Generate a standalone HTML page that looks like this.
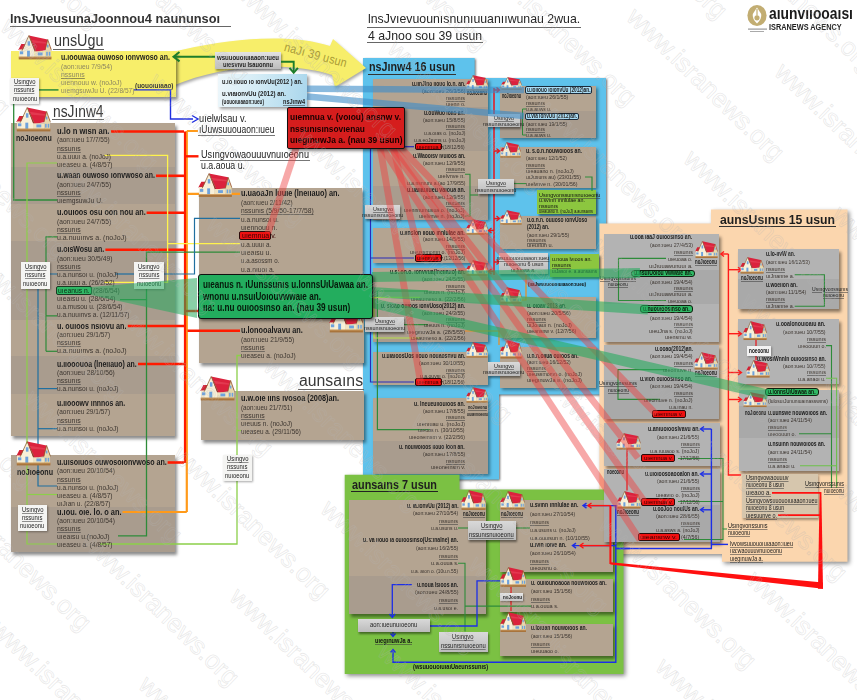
<!DOCTYPE html><html><head><meta charset="utf-8"><style>
*{margin:0;padding:0;box-sizing:border-box}
html,body{width:857px;height:700px;overflow:hidden;background:#fff}
body{position:relative;font-family:"Liberation Sans",sans-serif;color:#222}
.a{position:absolute}
.t{white-space:nowrap;line-height:1;transform-origin:0 0}
.sh{box-shadow:2px 3px 3px rgba(0,0,0,.45)}
.b1{background:#b4a491}.b2{background:#a99c8e}
.wm{font-size:25.7px;white-space:nowrap;color:transparent;-webkit-text-stroke:0.8px rgba(180,180,180,.28);transform:rotate(44deg);transform-origin:0 20px;line-height:1}
.g1{background:#b3b3b3}.g2{background:#a9a9a9}
</style></head><body>
<svg width="0" height="0" style="position:absolute"><defs>
<symbol id="h" viewBox="0 0 36 26">
<polygon points="0.3,15.5 3.5,9.3 8.8,9.3 8.8,15.5" fill="#d42036"/>
<rect x="1" y="15" width="8" height="8" fill="#f4ead0"/>
<polygon points="5,15.5 11.5,1.2 17.5,15.5 17.5,23 5,23" fill="#f8f0d8"/>
<polygon points="11.5,0.4 31.3,4.6 35,14.5 19.2,17.6" fill="#db223d"/>
<polygon points="11.5,0.4 19.2,17.6 17.6,17.2" fill="#9c1227"/>
<polygon points="14,5 30,7.5 31,9 16,8" fill="#e84a5e" opacity=".6"/>
<rect x="17.5" y="17" width="11.5" height="6" fill="#efe3c2"/>
<polygon points="29,15.5 31.5,5 35,15.5 35,23 29,23" fill="#e7d7ab"/>
<polyline points="4.3,16.3 11.5,0.6 18.2,16.3" fill="none" stroke="#8a5a2a" stroke-width=".8"/>
<polyline points="28.6,16 31.5,4.6 35.5,16" fill="none" stroke="#8a5a2a" stroke-width=".7"/>
<rect x="10.2" y="6.5" width="2.6" height="4.6" fill="#6ea2dc"/>
<rect x="9.6" y="16.3" width="3" height="6.5" fill="#6ea2dc"/>
<rect x="2" y="17" width="3.5" height="3" fill="#6ea2dc"/>
<rect x="21" y="18.2" width="5" height="3" fill="#6ea2dc"/>
<rect x="30.7" y="10" width="1.6" height="3" fill="#6ea2dc"/>
<rect x="29.9" y="17.5" width="1.6" height="4" fill="#6ea2dc"/>
<rect x="32.6" y="17.5" width="1.6" height="4" fill="#6ea2dc"/>
<rect x="0.8" y="22.6" width="34.6" height="2.8" fill="#a8743c"/>
<rect x="0.8" y="22.6" width="34.6" height="0.7" fill="#d4a56a"/>
</symbol></defs></svg>
<svg class="a" style="left:0;top:0;" width="857" height="700"><path d="M363,58 H474.7 V78 H606 V394.6 H499 V479.5 H363 Z" fill="#5ec2ec" style="filter:drop-shadow(1.5px 1.5px 1px rgba(0,0,0,.6))"/></svg>
<svg class="a" style="left:0;top:0;" width="857" height="700"><path d="M172,52 C230,38 290,33 330,46 L333,39 L366,68 L335,87 L332,75 C300,64 235,60 172,86 Z" fill="#f7ee6a" style="filter:drop-shadow(1px 2px 1.5px rgba(0,0,0,.35))"/></svg>
<div class="a t" style="left:286px;top:40.5px;font-size:12.5px;color:#a99b35;transform:rotate(15deg) scaleX(0.86);transform-origin:0 0;letter-spacing:0.3px">naJı 39 usun</div>
<div class="a sh" style="left:10.5px;top:51px;width:165px;height:46px;background:#f7ee6a"></div>
<div class="a b1" style="left:11px;top:123px;width:164px;height:313px;box-shadow:2px 3px 3px rgba(0,0,0,.45)"></div>
<div class="a b1" style="left:11px;top:455px;width:164px;height:97px;box-shadow:2px 3px 3px rgba(0,0,0,.45)"></div>
<div class="a b1" style="left:198.7px;top:188px;width:163.5px;height:132px;box-shadow:2px 3px 3px rgba(0,0,0,.45)"></div>
<div class="a b1" style="left:198.7px;top:319px;width:165.3px;height:44px;box-shadow:2px 3px 3px rgba(0,0,0,.45)"></div>
<div class="a b1" style="left:200.5px;top:391px;width:163.5px;height:49px;box-shadow:2px 3px 3px rgba(0,0,0,.45)"></div>
<div class="a b1" style="left:372.9px;top:79.4px;width:115px;height:140px;box-shadow:2px 2px 3px rgba(0,0,0,.4)"></div>
<div class="a b1" style="left:372.9px;top:228px;width:115px;height:34.7px;box-shadow:2px 2px 3px rgba(0,0,0,.4)"></div>
<div class="a b1" style="left:372.9px;top:268px;width:115px;height:74px;box-shadow:2px 2px 3px rgba(0,0,0,.4)"></div>
<div class="a b1" style="left:372.9px;top:352px;width:115px;height:33px;box-shadow:2px 2px 3px rgba(0,0,0,.4)"></div>
<div class="a b1" style="left:372.9px;top:397.6px;width:115px;height:76.4px;box-shadow:2px 2px 3px rgba(0,0,0,.4)"></div>
<div class="a b1" style="left:500.4px;top:86px;width:95.6px;height:52px;box-shadow:2px 2px 3px rgba(0,0,0,.4)"></div>
<div class="a b1" style="left:500.4px;top:147px;width:95.6px;height:41.4px;box-shadow:2px 2px 3px rgba(0,0,0,.4)"></div>
<div class="a b1" style="left:500px;top:216px;width:96px;height:33.4px;box-shadow:2px 2px 3px rgba(0,0,0,.4)"></div>
<div class="a b1" style="left:500px;top:297.4px;width:96px;height:40.2px;box-shadow:2px 2px 3px rgba(0,0,0,.4)"></div>
<div class="a b1" style="left:500px;top:347px;width:96px;height:41px;box-shadow:2px 2px 3px rgba(0,0,0,.4)"></div>
<div class="a b2" style="left:11px;top:167px;width:164px;height:37px;"></div>
<div class="a b2" style="left:11px;top:241px;width:164px;height:79px;"></div>
<div class="a b2" style="left:11px;top:356px;width:164px;height:38px;"></div>
<div class="a b2" style="left:11px;top:507px;width:164px;height:45px;"></div>
<div class="a b2" style="left:372.9px;top:107.3px;width:115px;height:43.5px;"></div>
<div class="a b2" style="left:372.9px;top:185.5px;width:115px;height:34px;"></div>
<div class="a b2" style="left:372.9px;top:301.5px;width:115px;height:40.5px;"></div>
<div class="a b2" style="left:372.9px;top:441px;width:115px;height:33px;"></div>
<div class="a b2" style="left:500.4px;top:111px;width:95.6px;height:27px;"></div>
<svg class="a" style="left:0;top:0;" width="857" height="700"><path d="M711,209.4 H847.5 V561.7 H722 V554 H599.4 V223.5 H711 Z" fill="#fbd6ae" style="filter:drop-shadow(2px 2px 2px rgba(0,0,0,.45))"/></svg>
<svg class="a" style="left:0;top:0;" width="857" height="700"><path d="M344.7,474.7 H459.5 V489.5 H623.5 V674 H344.7 Z" fill="#7bc143" style="filter:drop-shadow(2px 2px 2px rgba(0,0,0,.45))"/></svg>
<div class="a b1" style="left:349px;top:499.7px;width:136.5px;height:114.3px;box-shadow:2px 3px 3px rgba(0,0,0,.45)"></div>
<div class="a b1" style="left:500.4px;top:500.2px;width:112.6px;height:72px;box-shadow:2px 3px 3px rgba(0,0,0,.45)"></div>
<div class="a b1" style="left:500.4px;top:579px;width:112.6px;height:32.5px;box-shadow:2px 3px 3px rgba(0,0,0,.45)"></div>
<div class="a b1" style="left:500.4px;top:623.8px;width:112.6px;height:32.5px;box-shadow:2px 3px 3px rgba(0,0,0,.45)"></div>
<div class="a g1" style="left:604.3px;top:234px;width:115px;height:107.6px;box-shadow:2px 3px 3px rgba(0,0,0,.45)"></div>
<div class="a g1" style="left:604.3px;top:345px;width:115px;height:74px;box-shadow:2px 3px 3px rgba(0,0,0,.45)"></div>
<div class="a g1" style="left:604px;top:423.3px;width:115.7px;height:42.4px;box-shadow:2px 3px 3px rgba(0,0,0,.45)"></div>
<div class="a g1" style="left:604px;top:469.2px;width:115.7px;height:72.5px;box-shadow:2px 3px 3px rgba(0,0,0,.45)"></div>
<div class="a g1" style="left:737.6px;top:249px;width:101.7px;height:59.6px;box-shadow:2px 3px 3px rgba(0,0,0,.45)"></div>
<div class="a g1" style="left:737.6px;top:318.8px;width:101.7px;height:65.2px;box-shadow:2px 3px 3px rgba(0,0,0,.45)"></div>
<div class="a g1" style="left:738.9px;top:389.5px;width:100.6px;height:81.7px;box-shadow:2px 3px 3px rgba(0,0,0,.45)"></div>
<div class="a b1" style="left:349px;top:534.6px;width:136.5px;height:41.7px;"></div>
<div class="a b2" style="left:349px;top:576.3px;width:136.5px;height:37.7px;"></div>
<div class="a g2" style="left:604.3px;top:269.6px;width:115px;height:34.4px;"></div>
<div class="a g2" style="left:604.3px;top:380px;width:115px;height:39px;"></div>
<div class="a g2" style="left:604px;top:505px;width:115.7px;height:36.7px;"></div>
<div class="a g2" style="left:737.6px;top:278.8px;width:101.7px;height:29.8px;"></div>
<div class="a g2" style="left:738.9px;top:406px;width:100.6px;height:31.6px;"></div>
<div class="a " style="left:215.3px;top:51.5px;width:65.5px;height:17.5px;background:linear-gradient(#e2e2e2,#bdbdbd);box-shadow:1px 2px 2px rgba(0,0,0,.4)"></div>
<div class="a " style="left:217.8px;top:74px;width:89.5px;height:33px;background:linear-gradient(100deg,#eef7fb 0%,#d2ebf5 45%,#a9d6ec 100%);box-shadow:2px 2px 3px rgba(0,0,0,.4)"></div>
<div class="a " style="left:537px;top:190.4px;width:58.5px;height:23.6px;background:#8cc63f;box-shadow:1.5px 2px 2px rgba(0,0,0,.5)"></div>
<div class="a " style="left:550px;top:254px;width:49px;height:22.5px;background:#8cc63f;box-shadow:1.5px 2px 2px rgba(0,0,0,.5)"></div>
<div class="a " style="left:742px;top:474px;width:76px;height:44px;background:#d6c6ad;box-shadow:1px 2px 2px rgba(0,0,0,.35)"></div>
<svg class="a" style="left:0;top:0" width="857" height="700"><path d="M215,56.7 L174,56.7" fill="none" stroke="#1e7d2a" stroke-width="1.9" /></svg>
<svg class="a" style="left:0;top:0" width="857" height="700"><path d="M179.5,52 L173.5,56.7 L179.5,61.4" fill="none" stroke="#1e7d2a" stroke-width="2" /></svg>
<svg class="a" style="left:0;top:0" width="857" height="700"><path d="M281,61.8 L293.7,61.8 L293.7,72" fill="none" stroke="#1e7d2a" stroke-width="1.9" /></svg>
<svg class="a" style="left:0;top:0" width="857" height="700"><path d="M289.5,67.8 L293.7,72.8 L297.9,67.8" fill="none" stroke="#1e7d2a" stroke-width="2" /></svg>
<svg class="a" style="left:0;top:0" width="857" height="700"><path d="M186.8,131 L186.8,512" fill="none" stroke="#ff9a1a" stroke-width="2.2" /></svg>
<svg class="a" style="left:0;top:0" width="857" height="700"><path d="M39,89.9 L58.5,89.9" fill="none" stroke="#2e8b3a" stroke-width="1.5" /></svg>
<svg class="a" style="left:0;top:0" width="857" height="700"><path d="M13.7,104 L13.7,200 L57,200" fill="none" stroke="#2e8b3a" stroke-width="1.3" /></svg>
<svg class="a" style="left:0;top:0" width="857" height="700"><path d="M134,89.9 L170.5,89.9 L170.5,119 L193,119" fill="none" stroke="#1f2fe0" stroke-width="1.4" /></svg>
<svg class="a" style="left:0;top:0" width="857" height="700"><path d="M185,131.5 L185,463" fill="none" stroke="#ff1a00" stroke-width="2.2" /></svg>
<svg class="a" style="left:0;top:0" width="857" height="700"><path d="M111,131.5 L184,131.5" fill="none" stroke="#ff1a00" stroke-width="2.6" /></svg>
<svg class="a" style="left:0;top:0" width="857" height="700"><path d="M156,175.8 L184,175.8" fill="none" stroke="#ff1a00" stroke-width="2.6" /></svg>
<svg class="a" style="left:0;top:0" width="857" height="700"><path d="M146.6,212.7 L184,212.7" fill="none" stroke="#ff1a00" stroke-width="2.6" /></svg>
<svg class="a" style="left:0;top:0" width="857" height="700"><path d="M105.4,249.8 L184,249.8" fill="none" stroke="#ff1a00" stroke-width="2.6" /></svg>
<svg class="a" style="left:0;top:0" width="857" height="700"><path d="M127.8,326 L184,326" fill="none" stroke="#ff1a00" stroke-width="2.6" /></svg>
<svg class="a" style="left:0;top:0" width="857" height="700"><path d="M138,364 L184,364" fill="none" stroke="#ff1a00" stroke-width="2.6" /></svg>
<svg class="a" style="left:0;top:0" width="857" height="700"><path d="M167.6,462.5 L184,462.5" fill="none" stroke="#ff1a00" stroke-width="2.6" /></svg>
<svg class="a" style="left:0;top:0" width="857" height="700"><path d="M122.5,512 L186.8,512" fill="none" stroke="#ff9a1a" stroke-width="2.2" /></svg>
<svg class="a" style="left:0;top:0" width="857" height="700"><path d="M184,311 L198.7,311" fill="none" stroke="#ff1a00" stroke-width="2.4" /></svg>
<svg class="a" style="left:0;top:0" width="857" height="700"><path d="M186.8,131 L198,131" fill="none" stroke="#ff9a1a" stroke-width="2" /></svg>
<svg class="a" style="left:0;top:0" width="857" height="700"><path d="M186.8,193.8 L240,193.8" fill="none" stroke="#ff9a1a" stroke-width="2.2" /></svg>
<svg class="a" style="left:0;top:0" width="857" height="700"><path d="M187.5,330.7 L240,330.7" fill="none" stroke="#ff1a00" stroke-width="2.6" /></svg>
<svg class="a" style="left:0;top:0" width="857" height="700"><path d="M184,156.3 L198.5,156.3" fill="none" stroke="#ff1a00" stroke-width="2.4" /></svg>
<svg class="a" style="left:0;top:0" width="857" height="700"><path d="M104,155.3 L167.6,155.3 L167.6,282.4 L104,282.4" fill="none" stroke="#fff34d" stroke-width="1.3" /></svg>
<svg class="a" style="left:0;top:0" width="857" height="700"><path d="M167.6,243.7 L240,243.7" fill="none" stroke="#fff34d" stroke-width="1.3" /></svg>
<svg class="a" style="left:0;top:0" width="857" height="700"><path d="M57,163 L27,163 L27,544 L57,544" fill="none" stroke="#8ccf4a" stroke-width="1.2" /></svg>
<svg class="a" style="left:0;top:0" width="857" height="700"><path d="M100,544 L237,544 L237,355.5 L241,355.5" fill="none" stroke="#8ccf4a" stroke-width="1.3" /></svg>
<svg class="a" style="left:0;top:0" width="857" height="700"><path d="M237,430.5 L241,430.5" fill="none" stroke="#8ccf4a" stroke-width="1.3" /></svg>
<svg class="a" style="left:0;top:0" width="857" height="700"><path d="M57,494.5 L27,494.5" fill="none" stroke="#8ccf4a" stroke-width="1.2" /></svg>
<svg class="a" style="left:0;top:0" width="857" height="700"><path d="M57,236.8 L46,236.8 L46,315.8 L57,315.8" fill="none" stroke="#2e8b3a" stroke-width="1.2" /></svg>
<svg class="a" style="left:0;top:0" width="857" height="700"><path d="M46,351.3 L57,351.3" fill="none" stroke="#2e8b3a" stroke-width="1.2" /></svg>
<svg class="a" style="left:0;top:0" width="857" height="700"><path d="M46,315.8 L46,351.3" fill="none" stroke="#2e8b3a" stroke-width="1.2" /></svg>
<svg class="a" style="left:0;top:0" width="857" height="700"><path d="M120,299.6 L146.5,299.6 L146.5,252.2 L240,252.2" fill="none" stroke="#2e8b3a" stroke-width="1.3" /></svg>
<svg class="a" style="left:0;top:0" width="857" height="700"><path d="M146.5,299.6 L146.5,535.8 L118,535.8" fill="none" stroke="#2e8b3a" stroke-width="1.3" /></svg>
<svg class="a" style="left:0;top:0" width="857" height="700"><path d="M57,274 L38,274 L38,486 L57,486" fill="none" stroke="#1f6fa0" stroke-width="1.2" /></svg>
<svg class="a" style="left:0;top:0" width="857" height="700"><path d="M38,388.6 L57,388.6" fill="none" stroke="#1f6fa0" stroke-width="1.2" /></svg>
<svg class="a" style="left:0;top:0" width="857" height="700"><path d="M38,428.7 L57,428.7" fill="none" stroke="#1f6fa0" stroke-width="1.2" /></svg>
<svg class="a" style="left:0;top:0" width="857" height="700"><path d="M115,274 L134,274" fill="none" stroke="#1f6fa0" stroke-width="1.2" /></svg>
<svg class="a" style="left:0;top:0" width="857" height="700"><path d="M164,274 L194.5,274 L194.5,218.3 L240,218.3" fill="none" stroke="#1f6fa0" stroke-width="1.2" /></svg>
<svg class="a" style="left:0;top:0" width="857" height="700"><path d="M526,109 L522.5,109 L522.5,135 L526,135" fill="none" stroke="#2e8b3a" stroke-width="1" /></svg>
<svg class="a" style="left:0;top:0" width="857" height="700"><path d="M585,177 L592,177 L592,191" fill="none" stroke="#2e8b3a" stroke-width="1.2" /></svg>
<svg class="a" style="left:0;top:0" width="857" height="700"><path d="M514,183.6 L526,183.6" fill="none" stroke="#2e8b3a" stroke-width="1" /></svg>
<svg class="a" style="left:0;top:0" width="857" height="700"><path d="M192,115.5 L198,119 L192,122.5" fill="none" stroke="#1f2fe0" stroke-width="1.4"/></svg>
<svg class="a" style="left:0;top:0" width="857" height="700"><path d="M494,88 L494,275" fill="none" stroke="#e8141a" stroke-width="1.5" /></svg>
<svg class="a" style="left:0;top:0" width="857" height="700"><path d="M494,90 L499,90" fill="none" stroke="#e8141a" stroke-width="1.5" /></svg>
<svg class="a" style="left:0;top:0" width="857" height="700"><path d="M496.5,87.5 L499.5,90 L496.5,92.5" fill="none" stroke="#e8141a" stroke-width="1.3" /></svg>
<svg class="a" style="left:0;top:0" width="857" height="700"><path d="M494,151 L499,151" fill="none" stroke="#e8141a" stroke-width="1.5" /></svg>
<svg class="a" style="left:0;top:0" width="857" height="700"><path d="M496.5,148.5 L499.5,151 L496.5,153.5" fill="none" stroke="#e8141a" stroke-width="1.3" /></svg>
<svg class="a" style="left:0;top:0" width="857" height="700"><path d="M494,218.6 L499,218.6" fill="none" stroke="#e8141a" stroke-width="1.5" /></svg>
<svg class="a" style="left:0;top:0" width="857" height="700"><path d="M496.5,216.1 L499.5,218.6 L496.5,221.1" fill="none" stroke="#e8141a" stroke-width="1.3" /></svg>
<svg class="a" style="left:0;top:0" width="857" height="700"><path d="M494,262 L499,262" fill="none" stroke="#e8141a" stroke-width="1.5" /></svg>
<svg class="a" style="left:0;top:0" width="857" height="700"><path d="M496.5,259.5 L499.5,262 L496.5,264.5" fill="none" stroke="#e8141a" stroke-width="1.3" /></svg>
<svg class="a" style="left:0;top:0" width="857" height="700"><path d="M494,230.4 L489,230.4" fill="none" stroke="#e8141a" stroke-width="1.5" /></svg>
<svg class="a" style="left:0;top:0" width="857" height="700"><path d="M491.5,227.9 L488.5,230.4 L491.5,232.9" fill="none" stroke="#e8141a" stroke-width="1.3" /></svg>
<svg class="a" style="left:0;top:0" width="857" height="700"><path d="M494,271.4 L489,271.4" fill="none" stroke="#e8141a" stroke-width="1.5" /></svg>
<svg class="a" style="left:0;top:0" width="857" height="700"><path d="M491.5,268.9 L488.5,271.4 L491.5,273.9" fill="none" stroke="#e8141a" stroke-width="1.3" /></svg>
<svg class="a" style="left:0;top:0" width="857" height="700"><path d="M370.5,149 L370.5,382 L414,382" fill="none" stroke="#2a2ab8" stroke-width="1.2" /></svg>
<svg class="a" style="left:0;top:0" width="857" height="700"><path d="M370.5,258 L414,258" fill="none" stroke="#2a2ab8" stroke-width="1.2" /></svg>
<svg class="a" style="left:0;top:0" width="857" height="700"><path d="M404,146.7 L414,146.7" fill="none" stroke="#2a2ab8" stroke-width="1.2" /></svg>
<svg class="a" style="left:0;top:0" width="857" height="700"><path d="M377.4,291 L377.4,429.6 L430,429.6" fill="none" stroke="#2e8b3a" stroke-width="1.2" /></svg>
<svg class="a" style="left:0;top:0" width="857" height="700"><path d="M377.4,291 L428,291" fill="none" stroke="#2e8b3a" stroke-width="1.2" /></svg>
<svg class="a" style="left:0;top:0" width="857" height="700"><path d="M377.4,324.6 L428,324.6" fill="none" stroke="#2e8b3a" stroke-width="1.2" /></svg>
<svg class="a" style="left:0;top:0" width="857" height="700"><path d="M374,297.4 L374,338 L420,338" fill="none" stroke="#b8e04a" stroke-width="1.2" /></svg>
<svg class="a" style="left:0;top:0" width="857" height="700"><path d="M374,297.4 L420,297.4" fill="none" stroke="#b8e04a" stroke-width="1.2" /></svg>
<svg class="a" style="left:0;top:0" width="857" height="700"><path d="M465,331 L499,331 L499,345" fill="none" stroke="#f08a1a" stroke-width="1.2" /></svg>
<svg class="a" style="left:0;top:0" width="857" height="700"><path d="M526,275 L526,300 L520,300" fill="none" stroke="#f08a1a" stroke-width="1.2" /></svg>
<svg class="a" style="left:0;top:0" width="857" height="700"><path d="M465,174.2 L470,174.2 L470,216 L465,216" fill="none" stroke="#2e8b3a" stroke-width="1.1" /></svg>
<svg class="a" style="left:0;top:0" width="857" height="700"><path d="M470,195 L478,195" fill="none" stroke="#2e8b3a" stroke-width="1.1" /></svg>
<svg class="a" style="left:0;top:0" width="857" height="700"><path d="M666,258.4 L618.5,258.4 L618.5,300.5 L666,300.5" fill="none" stroke="#2e8b3a" stroke-width="1.1" /></svg>
<svg class="a" style="left:0;top:0" width="857" height="700"><path d="M667,369.6 L618,369.6 L618,399.4 L660,399.4" fill="none" stroke="#2e8b3a" stroke-width="1.1" /></svg>
<svg class="a" style="left:0;top:0" width="857" height="700"><path d="M627,449 L627,490.6" fill="none" stroke="#e8141a" stroke-width="1.2" /></svg>
<svg class="a" style="left:0;top:0" width="857" height="700"><path d="M794.7,274.7 L824.4,274.7 L824.4,306.3 L794.7,306.3" fill="none" stroke="#2e8b3a" stroke-width="1.1" /></svg>
<svg class="a" style="left:0;top:0" width="857" height="700"><path d="M756,340 L756,360" fill="none" stroke="#e8141a" stroke-width="1.2" /></svg>
<svg class="a" style="left:0;top:0" width="857" height="700"><path d="M826,345.6 L831.5,345.6 L831.5,488" fill="none" stroke="#2e8b3a" stroke-width="1.1" /></svg>
<svg class="a" style="left:0;top:0" width="857" height="700"><path d="M799,433.7 L831.5,433.7" fill="none" stroke="#2e8b3a" stroke-width="1.1" /></svg>
<svg class="a" style="left:0;top:0" width="857" height="700"><path d="M826,378.3 L836.6,378.3 L836.6,488" fill="none" stroke="#6cc04a" stroke-width="1.1" /></svg>
<svg class="a" style="left:0;top:0" width="857" height="700"><path d="M800,465.8 L836.6,465.8" fill="none" stroke="#6cc04a" stroke-width="1.1" /></svg>
<svg class="a" style="left:0;top:0" width="857" height="700"><path d="M728.4,254 L728.4,475 L741,475" fill="none" stroke="#ff1a1a" stroke-width="1.4" /></svg>
<svg class="a" style="left:0;top:0" width="857" height="700"><path d="M728.4,254 L721,254" fill="none" stroke="#ff1a1a" stroke-width="1.4" /></svg>
<svg class="a" style="left:0;top:0" width="857" height="700"><path d="M724,251.5 L720.8,254 L724,256.5" fill="none" stroke="#ff1a1a" stroke-width="1.3" /></svg>
<svg class="a" style="left:0;top:0" width="857" height="700"><path d="M728.4,269.7 L741,269.7" fill="none" stroke="#ff1a1a" stroke-width="1.4" /></svg>
<svg class="a" style="left:0;top:0" width="857" height="700"><path d="M738,267.2 L741.5,269.7 L738,272.2" fill="none" stroke="#ff1a1a" stroke-width="1.3" /></svg>
<svg class="a" style="left:0;top:0" width="857" height="700"><path d="M728.4,333.7 L741,333.7" fill="none" stroke="#ff1a1a" stroke-width="1.4" /></svg>
<svg class="a" style="left:0;top:0" width="857" height="700"><path d="M738,331.2 L741.5,333.7 L738,336.2" fill="none" stroke="#ff1a1a" stroke-width="1.3" /></svg>
<svg class="a" style="left:0;top:0" width="857" height="700"><path d="M728.4,372.5 L741,372.5" fill="none" stroke="#ff1a1a" stroke-width="1.4" /></svg>
<svg class="a" style="left:0;top:0" width="857" height="700"><path d="M738,370.0 L741.5,372.5 L738,375.0" fill="none" stroke="#ff1a1a" stroke-width="1.3" /></svg>
<svg class="a" style="left:0;top:0" width="857" height="700"><path d="M728.4,399.5 L741,399.5" fill="none" stroke="#ff1a1a" stroke-width="1.4" /></svg>
<svg class="a" style="left:0;top:0" width="857" height="700"><path d="M738,397.0 L741.5,399.5 L738,402.0" fill="none" stroke="#ff1a1a" stroke-width="1.3" /></svg>
<svg class="a" style="left:0;top:0" width="857" height="700"><path d="M678,458.5 L723,458.5 L723,529" fill="none" stroke="#2e8b3a" stroke-width="1.1" /></svg>
<svg class="a" style="left:0;top:0" width="857" height="700"><path d="M678,501.5 L723,501.5" fill="none" stroke="#2e8b3a" stroke-width="1.1" /></svg>
<svg class="a" style="left:0;top:0" width="857" height="700"><path d="M684,539.5 L723,539.5 L723,529 L727,529" fill="none" stroke="#2e8b3a" stroke-width="1.1" /></svg>
<svg class="a" style="left:0;top:0" width="857" height="700"><path d="M711.4,429 L711.4,548.5 L615,548.5" fill="none" stroke="#1c2ee6" stroke-width="1.4" /></svg>
<svg class="a" style="left:0;top:0" width="857" height="700"><path d="M711.4,544.4 L728,544.4" fill="none" stroke="#1c2ee6" stroke-width="1.4" /></svg>
<svg class="a" style="left:0;top:0" width="857" height="700"><path d="M711.4,429 L701,429" fill="none" stroke="#1c2ee6" stroke-width="1.4" /></svg>
<svg class="a" style="left:0;top:0" width="857" height="700"><path d="M704,426.5 L700.5,429 L704,431.5" fill="none" stroke="#1c2ee6" stroke-width="1.4" /></svg>
<svg class="a" style="left:0;top:0" width="857" height="700"><path d="M711.4,474 L701,474" fill="none" stroke="#1c2ee6" stroke-width="1.4" /></svg>
<svg class="a" style="left:0;top:0" width="857" height="700"><path d="M704,471.5 L700.5,474 L704,476.5" fill="none" stroke="#1c2ee6" stroke-width="1.4" /></svg>
<svg class="a" style="left:0;top:0" width="857" height="700"><path d="M711.4,509.8 L701,509.8" fill="none" stroke="#1c2ee6" stroke-width="1.4" /></svg>
<svg class="a" style="left:0;top:0" width="857" height="700"><path d="M704,507.3 L700.5,509.8 L704,512.3" fill="none" stroke="#1c2ee6" stroke-width="1.4" /></svg>
<svg class="a" style="left:0;top:0" width="857" height="700"><path d="M511,587 L511,611" fill="none" stroke="#e8141a" stroke-width="1.2" /></svg>
<svg class="a" style="left:0;top:0" width="857" height="700"><path d="M458,528 L468,528" fill="none" stroke="#2e8b3a" stroke-width="1.1" /></svg>
<svg class="a" style="left:0;top:0" width="857" height="700"><path d="M515.5,528 L530,528" fill="none" stroke="#2e8b3a" stroke-width="1.1" /></svg>
<svg class="a" style="left:0;top:0" width="857" height="700"><path d="M458,563.3 L465,563.3 L465,631.5" fill="none" stroke="#2e8b3a" stroke-width="1.1" /></svg>
<svg class="a" style="left:0;top:0" width="857" height="700"><path d="M465,606.1 L531,606.1" fill="none" stroke="#2e8b3a" stroke-width="1.1" /></svg>
<svg class="a" style="left:0;top:0" width="857" height="700"><path d="M411.8,584.7 L392.3,584.7 L392.3,617" fill="none" stroke="#1c2ee6" stroke-width="1.3" /></svg>
<svg class="a" style="left:0;top:0" width="857" height="700"><path d="M389.5,614 L392.3,617.5 L395.1,614" fill="none" stroke="#1c2ee6" stroke-width="1.3" /></svg>
<svg class="a" style="left:0;top:0" width="857" height="700"><path d="M430,626 L477,626 L477,580.8 L500,580.8" fill="none" stroke="#1c2ee6" stroke-width="1.3" /></svg>
<svg class="a" style="left:0;top:0" width="857" height="700"><path d="M393,631.5 L393,636" fill="none" stroke="#1c2ee6" stroke-width="1.3" /></svg>
<svg class="a" style="left:0;top:0" width="857" height="700"><path d="M390.5,633.5 L393,636.5 L395.5,633.5" fill="none" stroke="#1c2ee6" stroke-width="1.3" /></svg>
<svg class="a" style="left:0;top:0" width="857" height="700"><path d="M393,650 L393,662.3 L615.8,662.3 L615.8,505.6 L584,505.6" fill="none" stroke="#1c2ee6" stroke-width="1.4" /></svg>
<svg class="a" style="left:0;top:0" width="857" height="700"><path d="M390.5,652.5 L393,649.5 L395.5,652.5" fill="none" stroke="#1c2ee6" stroke-width="1.3" /></svg>
<svg class="a" style="left:0;top:0" width="857" height="700"><path d="M615.8,545.6 L573,545.6" fill="none" stroke="#1c2ee6" stroke-width="1.4" /></svg>
<svg class="a" style="left:0;top:0" width="857" height="700"><path d="M586.5,503.1 L583,505.6 L586.5,508.1" fill="none" stroke="#1c2ee6" stroke-width="1.4" /></svg>
<svg class="a" style="left:0;top:0" width="857" height="700"><path d="M576.0,543.1 L572.5,545.6 L576.0,548.1" fill="none" stroke="#1c2ee6" stroke-width="1.4" /></svg>
<svg class="a" style="left:0;top:0" width="857" height="700"><path d="M615.8,548.5 L630,548.5" fill="none" stroke="#1c2ee6" stroke-width="1.4" /></svg>
<svg class="a" style="left:0;top:0" width="857" height="700"><path d="M610.3,505.6 L588,505.6" fill="none" stroke="#ff1010" stroke-width="1.4" /></svg>
<svg class="a" style="left:0;top:0" width="857" height="700"><path d="M591.5,503 L588,505.6 L591.5,508.2" fill="none" stroke="#ff1010" stroke-width="1.3" /></svg>
<svg class="a" style="left:0;top:0" width="857" height="700"><path d="M610.3,545.6 L580,545.6" fill="none" stroke="#ff1010" stroke-width="1.4" /></svg>
<svg class="a" style="left:0;top:0" width="857" height="700"><path d="M583.5,543 L580,545.6 L583.5,548.2" fill="none" stroke="#ff1010" stroke-width="1.3" /></svg>
<svg class="a" style="left:0;top:0" width="857" height="700"><path d="M772,492.8 L820.5,492.8" fill="none" stroke="#ff1010" stroke-width="1.7" /></svg>
<svg class="a" style="left:0;top:0" width="857" height="700"><path d="M778,515.1 L820.5,515.1" fill="none" stroke="#ff1010" stroke-width="1.7" /></svg>
<svg class="a" style="left:0;top:0" width="857" height="700"><polygon points="819.6,492 821.4,492 823,588.8 818,588.8" fill="#ff1010"/><polygon points="823,582.6 823,588.8 610.4,564.6 610.4,562.2" fill="#ff1010"/></svg>
<svg class="a" style="left:0;top:0" width="857" height="700"><path d="M610.4,505.5 L610.4,564" fill="none" stroke="#ff1010" stroke-width="2" /></svg>
<div class="a " style="left:55.5px;top:286.4000000000001px;width:36px;height:8.6px;background:#2fb865;border:1px solid #1a3a22;border-radius:2px"></div>
<div class="a " style="left:239.0px;top:231.39999999999998px;width:32px;height:8.8px;background:#ee1111;border:1.2px solid #2a0a0a;border-radius:2px"></div>
<div class="a " style="left:414.81484375px;top:142.49999999999997px;width:27.2px;height:7.6px;background:#ee1111;border:1.1px solid #2a0a0a;border-radius:2px"></div>
<div class="a " style="left:415.16953125px;top:254.20000000000005px;width:27.2px;height:7.6px;background:#ee1111;border:1.1px solid #2a0a0a;border-radius:2px"></div>
<div class="a " style="left:414.81484375px;top:378.3999999999999px;width:27.2px;height:7.6px;background:#ee1111;border:1.1px solid #2a0a0a;border-radius:2px"></div>
<div class="a " style="left:524.5px;top:85.5px;width:67.5px;height:8px;background:#a9dcf5;border:1.2px solid #1a2a3a;border-radius:2px"></div>
<div class="a " style="left:524.5px;top:112.5px;width:54px;height:7.5px;background:#a9dcf5;border:1.2px solid #1a2a3a;border-radius:2px"></div>
<div class="a " style="left:630.9574375px;top:269.5px;width:64.0425625px;height:7.4px;background:#2fb865;border:1.1px solid #10200f;border-radius:3px"></div>
<div class="a " style="left:640.4234375px;top:305.2px;width:52.5765625px;height:7.4px;background:#2fb865;border:1.1px solid #10200f;border-radius:3px"></div>
<div class="a " style="left:651.5px;top:409.6px;width:34px;height:8px;background:#f01010;border:1.1px solid #2a0a0a;border-radius:2px"></div>
<div class="a " style="left:641.3px;top:453.9000000000001px;width:34px;height:8px;background:#f01010;border:1.1px solid #2a0a0a;border-radius:2px"></div>
<div class="a " style="left:641.3px;top:498.0px;width:34px;height:8px;background:#f01010;border:1.1px solid #2a0a0a;border-radius:2px"></div>
<div class="a " style="left:637.6960937499999px;top:533.0px;width:42px;height:8px;background:#f01010;border:1.1px solid #2a0a0a;border-radius:2px"></div>
<div class="a " style="left:765px;top:388.40000000000003px;width:53.606px;height:7.4px;background:#2fb865;border:1.1px solid #10200f;border-radius:3px"></div>
<div class="a t" id="t1" style="left:10.0px;top:12.3px;font-size:13.5px;font-weight:bold;color:#333;transform:scaleX(0.946);">lnsJvıeusunaJoonnou4 naununsoı</div>
<div class="a " style="left:10px;top:25.5px;width:221px;height:1px;background:#666"></div>
<div class="a t" id="t2" style="left:367.7px;top:12.0px;font-size:13.5px;color:#262626;transform:scaleX(0.912);">lnsJvıevuounısnunıuuanııwunau 2wua.</div>
<div class="a " style="left:367px;top:26.5px;width:214px;height:1px;background:#666"></div>
<div class="a t" id="t3" style="left:367.7px;top:29.3px;font-size:13.5px;color:#262626;transform:scaleX(0.911);">4 aJnoo sou 39 usun</div>
<div class="a " style="left:367px;top:42px;width:116px;height:1px;background:#666"></div>
<div class="a t" id="t4" style="left:54.0px;top:32.8px;font-size:16px;color:#383838;transform:scaleX(0.896);">unsUgu</div>
<div class="a " style="left:53px;top:49px;width:51px;height:1px;background:#666"></div>
<div class="a t" id="t5" style="left:61.0px;top:52.9px;font-size:8.8px;font-weight:bold;color:#1c1c1c;transform:scaleX(0.796);">u.ıoouwaa ouwoso ıonvwoso an.</div>
<div class="a t" id="t6" style="left:61.0px;top:62.5px;font-size:7.2px;color:#8c8660;transform:scaleX(0.937);">(aon:ıueu 7/9/54)</div>
<div class="a t" id="t7" style="left:61.0px;top:70.5px;font-size:7.2px;color:#8c8660;transform:scaleX(0.962);text-decoration:underline;text-decoration-color:rgba(60,60,60,.55);">nssunıs</div>
<div class="a t" id="t8" style="left:61.0px;top:78.5px;font-size:7.2px;color:#8c8660;transform:scaleX(0.937);">uıennouu w. (noJoJ)</div>
<div class="a t" id="t9" style="left:61.0px;top:86.5px;font-size:7.2px;color:#8c8660;transform:scaleX(0.914);">uıemgsuwJu U. (22/8/57)</div>
<div class="a t" id="t10" style="left:134.5px;top:82.1px;font-size:7.2px;font-weight:bold;color:#333;transform:scaleX(0.893);">(uouoıuıaao)</div>
<div class="a t" id="t14" style="left:217.0px;top:53.6px;font-size:6.6px;font-weight:bold;color:#1c1c1c;transform:scaleX(0.840);font-size:7.2px;">wsuuouoıuıaaon:ıueu</div>
<div class="a t" id="t15" style="left:223.0px;top:61.1px;font-size:6.6px;font-weight:bold;color:#1c1c1c;transform:scaleX(0.797);font-size:7.2px;">uıesvıvu lsauonnu</div>
<div class="a t" id="t16" style="left:221.5px;top:78.0px;font-size:6.6px;font-weight:bold;color:#1c1c1c;transform:scaleX(0.791);font-size:7.2px;">u.ıo ııouo ıo ıonvUu(2012 ) an.</div>
<div class="a t" id="t17" style="left:221.5px;top:90.0px;font-size:6.6px;font-weight:bold;color:#1c1c1c;transform:scaleX(0.843);font-size:7.2px;">u.vıaıonvUu (2012) an.</div>
<div class="a t" id="t18" style="left:221.5px;top:98.3px;font-size:6.6px;font-weight:bold;color:#1c1c1c;transform:scaleX(0.649);font-size:7.2px;">(uouoıuıaaon:ıueu)</div>
<div class="a t" id="t19" style="left:283.0px;top:98.6px;font-size:6.6px;font-weight:bold;color:#1c1c1c;transform:scaleX(0.845);text-decoration:underline;text-decoration-color:rgba(60,60,60,.55);">nsJınw4</div>
<div class="a t" id="t20" style="left:198.5px;top:113.8px;font-size:10px;color:#1a1a1a;transform:scaleX(0.922);">uıelwlsau v.</div>
<div class="a t" id="t21" style="left:198.5px;top:124.8px;font-size:10px;color:#1a1a1a;transform:scaleX(0.849);">ıUuwsuuouaon:ıueu</div>
<div class="a " style="left:198px;top:134.5px;width:77px;height:1px;background:#777"></div>
<div class="a t" id="t22" style="left:201.0px;top:150.3px;font-size:10px;color:#1a1a1a;transform:scaleX(0.912);">Usıngvowaouuuvnuıoeonu</div>
<div class="a " style="left:200px;top:160.3px;width:110px;height:1px;background:#777"></div>
<div class="a t" id="t23" style="left:201.0px;top:161.3px;font-size:10px;color:#1a1a1a;transform:scaleX(0.880);">u.a.aoua u.</div>
<div class="a t" id="t24" style="left:52.5px;top:103.5px;font-size:16px;color:#383838;transform:scaleX(0.860);">nsJınw4</div>
<div class="a " style="left:52px;top:119.3px;width:52px;height:1px;background:#666"></div>
<div class="a t" id="t25" style="left:16.3px;top:134.1px;font-size:8.4px;font-weight:bold;color:#222;transform:scaleX(0.843);">noJıoeonu</div>
<div class="a t" id="t26" style="left:57.0px;top:127.0px;font-size:8.8px;font-weight:bold;color:#1c1c1c;transform:scaleX(0.866);">u.lo n wısn an.</div>
<div class="a t" id="t27" style="left:57.0px;top:136.4px;font-size:7.2px;color:#3d3630;transform:scaleX(0.896);">(aon:ıueu 17/7/55)</div>
<div class="a t" id="t28" style="left:57.0px;top:144.5px;font-size:7.2px;color:#3d3630;transform:scaleX(0.962);text-decoration:underline;text-decoration-color:rgba(60,60,60,.55);">nssunıs</div>
<div class="a t" id="t29" style="left:57.0px;top:152.6px;font-size:7.2px;color:#3d3630;transform:scaleX(0.900);">u.a.uuuı a. (noJoJ)</div>
<div class="a t" id="t30" style="left:57.0px;top:160.7px;font-size:7.2px;color:#3d3630;transform:scaleX(0.921);">uıeaseu a. (4/8/57)</div>
<div class="a t" id="t31" style="left:57.0px;top:171.3px;font-size:8.8px;font-weight:bold;color:#1c1c1c;transform:scaleX(0.792);">u.waan ouwoso ıonvwoso an.</div>
<div class="a t" id="t32" style="left:57.0px;top:180.7px;font-size:7.2px;color:#3d3630;transform:scaleX(0.921);">(aon:ıueu 24/7/55)</div>
<div class="a t" id="t33" style="left:57.0px;top:188.8px;font-size:7.2px;color:#3d3630;transform:scaleX(0.962);text-decoration:underline;text-decoration-color:rgba(60,60,60,.55);">nssunıs</div>
<div class="a t" id="t34" style="left:57.0px;top:196.9px;font-size:7.2px;color:#3d3630;transform:scaleX(0.927);">uıemgsuwJu U.</div>
<div class="a t" id="t35" style="left:57.0px;top:208.2px;font-size:8.8px;font-weight:bold;color:#1c1c1c;transform:scaleX(0.829);">u.ouıoos osu oon nou an.</div>
<div class="a t" id="t36" style="left:57.0px;top:217.6px;font-size:7.2px;color:#3d3630;transform:scaleX(0.921);">(aon:ıueu 24/7/55)</div>
<div class="a t" id="t37" style="left:57.0px;top:225.7px;font-size:7.2px;color:#3d3630;transform:scaleX(0.962);text-decoration:underline;text-decoration-color:rgba(60,60,60,.55);">nssunıs</div>
<div class="a t" id="t38" style="left:57.0px;top:233.8px;font-size:7.2px;color:#3d3630;transform:scaleX(0.977);">u.a.nuuınvs a. (noJoJ)</div>
<div class="a t" id="t39" style="left:57.0px;top:245.3px;font-size:8.8px;font-weight:bold;color:#1c1c1c;transform:scaleX(0.792);">u.oısWosu an.</div>
<div class="a t" id="t40" style="left:57.0px;top:254.7px;font-size:7.2px;color:#3d3630;transform:scaleX(0.945);">(aon:ıueu 30/5/49)</div>
<div class="a t" id="t41" style="left:57.0px;top:262.8px;font-size:7.2px;color:#3d3630;transform:scaleX(0.962);text-decoration:underline;text-decoration-color:rgba(60,60,60,.55);">nssunıs</div>
<div class="a t" id="t42" style="left:57.0px;top:270.9px;font-size:7.2px;color:#3d3630;transform:scaleX(0.910);">u.a.nunsoı u. (noJoJ)</div>
<div class="a t" id="t43" style="left:57.0px;top:279.0px;font-size:7.2px;color:#3d3630;transform:scaleX(0.892);">u.a.uuuı a. (26/2/52)</div>
<div class="a t" id="t45" style="left:93.0px;top:287.1px;font-size:7.2px;color:#3d3630;transform:scaleX(0.928);">(28/6/54)</div>
<div class="a t" id="t46" style="left:57.0px;top:295.2px;font-size:7.2px;color:#3d3630;transform:scaleX(0.939);">uıeaısu u. (28/6/54)</div>
<div class="a t" id="t47" style="left:57.0px;top:303.3px;font-size:7.2px;color:#3d3630;transform:scaleX(0.906);">u.a.musou u. (28/6/54)</div>
<div class="a t" id="t48" style="left:57.0px;top:311.4px;font-size:7.2px;color:#3d3630;transform:scaleX(0.913);">u.a.nuuınvs a. (12/11/57)</div>
<div class="a t" id="t49" style="left:57.0px;top:321.5px;font-size:8.8px;font-weight:bold;color:#1c1c1c;transform:scaleX(0.816);">u. ouıoos nsıovu an.</div>
<div class="a t" id="t50" style="left:57.0px;top:330.9px;font-size:7.2px;color:#3d3630;transform:scaleX(0.904);">(aon:ıueu 29/1/57)</div>
<div class="a t" id="t51" style="left:57.0px;top:339.0px;font-size:7.2px;color:#3d3630;transform:scaleX(0.962);text-decoration:underline;text-decoration-color:rgba(60,60,60,.55);">nssunıs</div>
<div class="a t" id="t52" style="left:57.0px;top:347.1px;font-size:7.2px;color:#3d3630;transform:scaleX(0.977);">u.a.nuuınvs a. (noJoJ)</div>
<div class="a t" id="t53" style="left:57.0px;top:359.5px;font-size:8.8px;font-weight:bold;color:#1c1c1c;transform:scaleX(0.788);">u.ııooouoa (lneııauo) an.</div>
<div class="a t" id="t54" style="left:57.0px;top:368.9px;font-size:7.2px;color:#3d3630;transform:scaleX(0.921);">(aon:ıueu 28/10/56)</div>
<div class="a t" id="t55" style="left:57.0px;top:377.0px;font-size:7.2px;color:#3d3630;transform:scaleX(0.962);text-decoration:underline;text-decoration-color:rgba(60,60,60,.55);">nssunıs</div>
<div class="a t" id="t56" style="left:57.0px;top:385.1px;font-size:7.2px;color:#3d3630;transform:scaleX(0.910);">u.a.nunsoı u. (noJoJ)</div>
<div class="a t" id="t57" style="left:57.0px;top:399.0px;font-size:8.8px;font-weight:bold;color:#1c1c1c;transform:scaleX(0.784);">u.ııooowv ınnnos an.</div>
<div class="a t" id="t58" style="left:57.0px;top:408.4px;font-size:7.2px;color:#3d3630;transform:scaleX(0.904);">(aon:ıueu 29/1/57)</div>
<div class="a t" id="t59" style="left:57.0px;top:416.5px;font-size:7.2px;color:#3d3630;transform:scaleX(0.962);text-decoration:underline;text-decoration-color:rgba(60,60,60,.55);">nssunıs</div>
<div class="a t" id="t60" style="left:57.0px;top:424.6px;font-size:7.2px;color:#3d3630;transform:scaleX(0.910);">u.a.nunsoı u. (noJoJ)</div>
<div class="a t" id="t61" style="left:57.0px;top:458.0px;font-size:8.8px;font-weight:bold;color:#1c1c1c;transform:scaleX(0.811);">u.uısoıuos ouwosoıonvwoso an.</div>
<div class="a t" id="t62" style="left:57.0px;top:467.4px;font-size:7.2px;color:#3d3630;transform:scaleX(0.924);">(aon:ıueu 20/10/54)</div>
<div class="a t" id="t63" style="left:57.0px;top:475.5px;font-size:7.2px;color:#3d3630;transform:scaleX(0.962);text-decoration:underline;text-decoration-color:rgba(60,60,60,.55);">nssunıs</div>
<div class="a t" id="t64" style="left:57.0px;top:483.6px;font-size:7.2px;color:#3d3630;transform:scaleX(0.910);">u.a.nunsoı u. (noJoJ)</div>
<div class="a t" id="t65" style="left:57.0px;top:491.7px;font-size:7.2px;color:#3d3630;transform:scaleX(0.921);">uıeaseu a. (4/8/57)</div>
<div class="a t" id="t66" style="left:57.0px;top:499.8px;font-size:7.2px;color:#3d3630;transform:scaleX(0.918);">uıJıan u. (22/8/57)</div>
<div class="a t" id="t67" style="left:57.0px;top:507.5px;font-size:8.8px;font-weight:bold;color:#1c1c1c;transform:scaleX(0.841);">u.ıou. oıe. lo. o an.</div>
<div class="a t" id="t68" style="left:57.0px;top:516.9px;font-size:7.2px;color:#3d3630;transform:scaleX(0.924);">(aon:ıueu 20/10/54)</div>
<div class="a t" id="t69" style="left:57.0px;top:525.0px;font-size:7.2px;color:#3d3630;transform:scaleX(0.962);text-decoration:underline;text-decoration-color:rgba(60,60,60,.55);">nssunıs</div>
<div class="a t" id="t70" style="left:57.0px;top:533.1px;font-size:7.2px;color:#3d3630;transform:scaleX(0.946);">uıeaısu u.(noJoJ)</div>
<div class="a t" id="t71" style="left:57.0px;top:541.2px;font-size:7.2px;color:#3d3630;transform:scaleX(0.921);">uıeaseu a. (4/8/57)</div>
<div class="a t" id="t72" style="left:16.5px;top:467.6px;font-size:8.4px;font-weight:bold;color:#222;transform:scaleX(0.850);">noJıoeonu</div>
<div class="a t" id="t82" style="left:240.5px;top:189.3px;font-size:8.8px;font-weight:bold;color:#1c1c1c;transform:scaleX(0.833);">u.uaoaJn luuıe (lneııauo) an.</div>
<div class="a t" id="t83" style="left:240.5px;top:198.8px;font-size:7.2px;color:#3d3630;transform:scaleX(0.889);">(aon:ıueu 2/11/42)</div>
<div class="a t" id="t84" style="left:240.5px;top:207.1px;font-size:7.2px;color:#3d3630;transform:scaleX(0.932);text-decoration:underline;text-decoration-color:rgba(60,60,60,.55);">nssunıs (5/9/50-17/7/58)</div>
<div class="a t" id="t85" style="left:240.5px;top:215.5px;font-size:7.2px;color:#3d3630;transform:scaleX(0.909);">u.a.nunsoı u.</div>
<div class="a t" id="t86" style="left:240.5px;top:223.8px;font-size:7.2px;color:#3d3630;transform:scaleX(0.956);">uıennouu n.</div>
<div class="a t" id="t88" style="left:240.5px;top:240.5px;font-size:7.2px;color:#3d3630;transform:scaleX(0.891);">u.a.uuuı a.</div>
<div class="a t" id="t89" style="left:240.5px;top:248.9px;font-size:7.2px;color:#3d3630;transform:scaleX(0.960);">uıeaısu u.</div>
<div class="a t" id="t90" style="left:240.5px;top:257.2px;font-size:7.2px;color:#3d3630;transform:scaleX(0.856);">u.a.asossm o.</div>
<div class="a t" id="t91" style="left:240.5px;top:265.6px;font-size:7.2px;color:#3d3630;transform:scaleX(0.931);">u.a.nıuoı a.</div>
<div class="a t" id="t92" style="left:241.0px;top:326.2px;font-size:8.8px;font-weight:bold;color:#1c1c1c;transform:scaleX(0.832);">u.lonooalvavu an.</div>
<div class="a t" id="t93" style="left:241.0px;top:335.8px;font-size:7.2px;color:#3d3630;transform:scaleX(0.905);">(aon:ıueu 21/9/55)</div>
<div class="a t" id="t94" style="left:241.0px;top:343.9px;font-size:7.2px;color:#3d3630;transform:scaleX(0.962);text-decoration:underline;text-decoration-color:rgba(60,60,60,.55);">nssunıs</div>
<div class="a t" id="t95" style="left:241.0px;top:352.0px;font-size:7.2px;color:#3d3630;transform:scaleX(0.919);">uıeaseu a. (noJoJ)</div>
<div class="a t" id="t96" style="left:299.0px;top:372.8px;font-size:16px;color:#383838;transform:scaleX(0.986);">aunsaıns</div>
<div class="a " style="left:298px;top:388.5px;width:66px;height:1px;background:#666"></div>
<div class="a t" id="t97" style="left:241.0px;top:394.0px;font-size:8.8px;font-weight:bold;color:#1c1c1c;transform:scaleX(0.831);">u.w.oıe ııns ıvosoa (2008)an.</div>
<div class="a t" id="t98" style="left:241.0px;top:403.5px;font-size:7.2px;color:#3d3630;transform:scaleX(0.876);">(aon:ıueu 21/7/51)</div>
<div class="a t" id="t99" style="left:241.0px;top:411.5px;font-size:7.2px;color:#3d3630;transform:scaleX(0.962);text-decoration:underline;text-decoration-color:rgba(60,60,60,.55);">nssunıs</div>
<div class="a t" id="t100" style="left:241.0px;top:419.5px;font-size:7.2px;color:#3d3630;transform:scaleX(0.924);">uıeuus n. (noJoJ)</div>
<div class="a t" id="t101" style="left:241.0px;top:427.5px;font-size:7.2px;color:#3d3630;transform:scaleX(0.882);">uıeaseu a. (29/11/56)</div>
<div class="a t" id="t105" style="left:369.0px;top:60.3px;font-size:13px;font-weight:bold;color:#1e1e1e;transform:scaleX(0.827);">nsJınw4 16 usun</div>
<div class="a " style="left:368px;top:73.5px;width:88px;height:1.2px;background:#333"></div>
<div class="a t" id="t106" style="left:411.7px;top:80.9px;font-size:6.6px;font-weight:bold;color:#1c1c1c;transform:scaleX(0.746);">u.ıınJlno ııouo lo.n. an.</div>
<div class="a t" id="t107" style="left:421.5px;top:87.9px;font-size:6.0px;color:#3a332e;transform:scaleX(0.888);">(aon:ıueu 26/3/56)</div>
<div class="a t" id="t108" style="left:446.1px;top:94.5px;font-size:6.0px;color:#3a332e;transform:scaleX(0.915);text-decoration:underline;text-decoration-color:rgba(60,60,60,.55);">nssunıs</div>
<div class="a t" id="t109" style="left:445.6px;top:101.1px;font-size:6.0px;color:#3a332e;transform:scaleX(0.896);">uıenn o.</div>
<div class="a t" id="t110" style="left:424.1px;top:109.6px;font-size:6.6px;font-weight:bold;color:#1c1c1c;transform:scaleX(0.746);">u.ouWuo ıoao an.</div>
<div class="a t" id="t111" style="left:422.7px;top:116.7px;font-size:6.0px;color:#3a332e;transform:scaleX(0.863);">(aon:ıueu 15/8/55)</div>
<div class="a t" id="t112" style="left:446.1px;top:123.4px;font-size:6.0px;color:#3a332e;transform:scaleX(0.915);text-decoration:underline;text-decoration-color:rgba(60,60,60,.55);">nssunıs</div>
<div class="a t" id="t113" style="left:423.6px;top:130.1px;font-size:6.0px;color:#3a332e;transform:scaleX(0.833);">u.a.oıas o. (noJoJ)</div>
<div class="a t" id="t114" style="left:413.6px;top:136.8px;font-size:6.0px;color:#3a332e;transform:scaleX(0.842);">u.a.eoJauns u. (noJoJ)</div>
<div class="a t" id="t115" style="left:443.3px;top:143.5px;font-size:6.0px;color:#3a332e;transform:scaleX(0.792);">(18/12/56)</div>
<div class="a t" id="t117" style="left:412.6px;top:152.8px;font-size:6.6px;font-weight:bold;color:#1c1c1c;transform:scaleX(0.759);">u.Waooısv ıvuıoos an.</div>
<div class="a t" id="t118" style="left:422.8px;top:159.8px;font-size:6.0px;color:#3a332e;transform:scaleX(0.861);">(aon:ıueu 12/9/55)</div>
<div class="a t" id="t119" style="left:446.1px;top:166.4px;font-size:6.0px;color:#3a332e;transform:scaleX(0.915);text-decoration:underline;text-decoration-color:rgba(60,60,60,.55);">nssunıs</div>
<div class="a t" id="t120" style="left:438.2px;top:173.0px;font-size:6.0px;color:#3a332e;transform:scaleX(0.922);">uıelvnve n.</div>
<div class="a t" id="t121" style="left:406.5px;top:179.6px;font-size:6.0px;color:#3a332e;transform:scaleX(0.852);">u.a.nsmunı a.(ao 17/9/55)</div>
<div class="a t" id="t122" style="left:406.7px;top:187.0px;font-size:6.6px;font-weight:bold;color:#1c1c1c;transform:scaleX(0.803);">u.uaııauıueu vaıoua an.</div>
<div class="a t" id="t123" style="left:422.8px;top:193.9px;font-size:6.0px;color:#3a332e;transform:scaleX(0.861);">(aon:ıueu 12/9/55)</div>
<div class="a t" id="t124" style="left:446.1px;top:200.4px;font-size:6.0px;color:#3a332e;transform:scaleX(0.915);text-decoration:underline;text-decoration-color:rgba(60,60,60,.55);">nssunıs</div>
<div class="a t" id="t125" style="left:404.4px;top:206.9px;font-size:6.0px;color:#3a332e;transform:scaleX(0.890);">uıennnumusua o. (noJoJ)</div>
<div class="a t" id="t126" style="left:419.4px;top:213.4px;font-size:6.0px;color:#3a332e;transform:scaleX(0.898);">uıelvnve n. (noJoJ)</div>
<div class="a t" id="t127" style="left:400.2px;top:229.6px;font-size:6.6px;font-weight:bold;color:#1c1c1c;transform:scaleX(0.782);">u.ıınslon ııouo ınnlulae an.</div>
<div class="a t" id="t128" style="left:422.9px;top:236.3px;font-size:6.0px;color:#3a332e;transform:scaleX(0.858);">(aon:ıueu 14/5/55)</div>
<div class="a t" id="t129" style="left:446.1px;top:242.6px;font-size:6.0px;color:#3a332e;transform:scaleX(0.915);text-decoration:underline;text-decoration-color:rgba(60,60,60,.55);">nssunıs</div>
<div class="a t" id="t130" style="left:410.1px;top:248.9px;font-size:6.0px;color:#3a332e;transform:scaleX(0.876);">uıeussmomn o. (noJoJ)</div>
<div class="a t" id="t131" style="left:443.7px;top:255.2px;font-size:6.0px;color:#3a332e;transform:scaleX(0.779);">(13/12/56)</div>
<div class="a t" id="t133" style="left:389.5px;top:269.2px;font-size:6.6px;font-weight:bold;color:#1c1c1c;transform:scaleX(0.780);">u.s:.on.o. ıonvvua(lneııauo) an.</div>
<div class="a t" id="t134" style="left:421.9px;top:276.2px;font-size:6.0px;color:#3a332e;transform:scaleX(0.877);">(aon:ıueu 24/5/55)</div>
<div class="a t" id="t135" style="left:446.1px;top:282.8px;font-size:6.0px;color:#3a332e;transform:scaleX(0.915);text-decoration:underline;text-decoration-color:rgba(60,60,60,.55);">nssunıs</div>
<div class="a t" id="t136" style="left:424.2px;top:289.4px;font-size:6.0px;color:#3a332e;transform:scaleX(0.880);">uıeuus n. (noJoJ)</div>
<div class="a t" id="t137" style="left:410.5px;top:296.0px;font-size:6.0px;color:#3a332e;transform:scaleX(0.878);">uıeauıneso a. (22/2/56)</div>
<div class="a t" id="t138" style="left:381.0px;top:302.8px;font-size:6.6px;font-weight:bold;color:#1c1c1c;transform:scaleX(0.760);">u. sıoao ouıoos ıonvUoso(2012) an.</div>
<div class="a t" id="t139" style="left:421.9px;top:309.6px;font-size:6.0px;color:#3a332e;transform:scaleX(0.878);">(aon:ıueu 24/3/55)</div>
<div class="a t" id="t140" style="left:446.1px;top:316.0px;font-size:6.0px;color:#3a332e;transform:scaleX(0.915);text-decoration:underline;text-decoration-color:rgba(60,60,60,.55);">nssunıs</div>
<div class="a t" id="t141" style="left:424.2px;top:322.4px;font-size:6.0px;color:#3a332e;transform:scaleX(0.880);">uıeuus n. (noJoJ)</div>
<div class="a t" id="t142" style="left:407.0px;top:328.8px;font-size:6.0px;color:#3a332e;transform:scaleX(0.920);">uıegınuwJa a. (28/5/55)</div>
<div class="a t" id="t143" style="left:410.5px;top:335.2px;font-size:6.0px;color:#3a332e;transform:scaleX(0.878);">uıeauıneso a. (22/2/56)</div>
<div class="a t" id="t144" style="left:381.5px;top:353.4px;font-size:6.6px;font-weight:bold;color:#1c1c1c;transform:scaleX(0.777);">u.uıaıoosUos ııouo nouaosnvu an.</div>
<div class="a t" id="t145" style="left:419.1px;top:360.2px;font-size:6.0px;color:#3a332e;transform:scaleX(0.877);">(aon:ıueu 30/10/55)</div>
<div class="a t" id="t146" style="left:446.1px;top:366.6px;font-size:6.0px;color:#3a332e;transform:scaleX(0.915);text-decoration:underline;text-decoration-color:rgba(60,60,60,.55);">nssunıs</div>
<div class="a t" id="t147" style="left:420.3px;top:373.0px;font-size:6.0px;color:#3a332e;transform:scaleX(0.849);">u.a.ouvsı o. (noJoJ)</div>
<div class="a t" id="t148" style="left:443.3px;top:379.4px;font-size:6.0px;color:#3a332e;transform:scaleX(0.792);">(18/12/56)</div>
<div class="a t" id="t150" style="left:414.1px;top:400.8px;font-size:6.6px;font-weight:bold;color:#1c1c1c;transform:scaleX(0.777);">u. lneueuııouıoos an.</div>
<div class="a t" id="t151" style="left:422.8px;top:407.7px;font-size:6.0px;color:#3a332e;transform:scaleX(0.862);">(aon:ıueu 17/8/55)</div>
<div class="a t" id="t152" style="left:446.1px;top:414.2px;font-size:6.0px;color:#3a332e;transform:scaleX(0.915);text-decoration:underline;text-decoration-color:rgba(60,60,60,.55);">nssunıs</div>
<div class="a t" id="t153" style="left:416.9px;top:420.7px;font-size:6.0px;color:#3a332e;transform:scaleX(0.930);">uıenıuau u. (noJoJ)</div>
<div class="a t" id="t154" style="left:418.4px;top:427.2px;font-size:6.0px;color:#3a332e;transform:scaleX(0.866);">uıeuus n. (30/10/55)</div>
<div class="a t" id="t155" style="left:409.0px;top:433.7px;font-size:6.0px;color:#3a332e;transform:scaleX(0.890);">uıeoneınsm v. (22/2/56)</div>
<div class="a t" id="t156" style="left:399.4px;top:443.8px;font-size:6.6px;font-weight:bold;color:#1c1c1c;transform:scaleX(0.754);">u. nouwoıoos ııouo loon an.</div>
<div class="a t" id="t157" style="left:422.8px;top:450.9px;font-size:6.0px;color:#3a332e;transform:scaleX(0.862);">(aon:ıueu 17/8/55)</div>
<div class="a t" id="t158" style="left:446.1px;top:457.6px;font-size:6.0px;color:#3a332e;transform:scaleX(0.915);text-decoration:underline;text-decoration-color:rgba(60,60,60,.55);">nssunıs</div>
<div class="a t" id="t159" style="left:430.8px;top:464.3px;font-size:6.0px;color:#3a332e;transform:scaleX(0.919);">uıeoneınsm v.</div>
<div class="a t" id="t160" style="left:467.0px;top:90.3px;font-size:6.6px;font-weight:bold;color:#1a1a1a;transform:scaleX(0.600);">noJıoeonu</div>
<div class="a t" id="t161" style="left:467.5px;top:404.2px;font-size:6.0px;font-weight:bold;color:#222;transform:scaleX(0.626);text-decoration:underline;text-decoration-color:rgba(60,60,60,.55);">noJıoeonu</div>
<div class="a t" id="t162" style="left:466.5px;top:410.5px;font-size:6.0px;font-weight:bold;color:#222;transform:scaleX(0.516);">uıuıavnıoeonu</div>
<div class="a t" id="t169" style="left:526.0px;top:94.2px;font-size:6.0px;color:#3a332e;transform:scaleX(0.861);">(aon:ıueu 26/1/55)</div>
<div class="a t" id="t170" style="left:526.0px;top:99.6px;font-size:6.0px;color:#3a332e;transform:scaleX(0.915);text-decoration:underline;text-decoration-color:rgba(60,60,60,.55);">nssunıs</div>
<div class="a t" id="t171" style="left:526.0px;top:106.2px;font-size:6.0px;color:#3a332e;transform:scaleX(0.820);">u.a.auws u.</div>
<div class="a t" id="t172" style="left:526.0px;top:120.8px;font-size:6.0px;color:#3a332e;transform:scaleX(0.842);">(aon:ıueu 19/1/55)</div>
<div class="a t" id="t173" style="left:526.0px;top:126.2px;font-size:6.0px;color:#3a332e;transform:scaleX(0.915);text-decoration:underline;text-decoration-color:rgba(60,60,60,.55);">nssunıs</div>
<div class="a t" id="t174" style="left:526.0px;top:132.2px;font-size:6.0px;color:#3a332e;transform:scaleX(0.820);">u.a.auws u.</div>
<div class="a t" id="t175" style="left:501.5px;top:92.8px;font-size:6.6px;font-weight:bold;color:#1a1a1a;transform:scaleX(0.570);">noJıoeonu</div>
<div class="a t" id="t176" style="left:526.0px;top:148.4px;font-size:6.6px;font-weight:bold;color:#1c1c1c;transform:scaleX(0.788);">u. s.o.n.nouwoıoos an.</div>
<div class="a t" id="t177" style="left:526.0px;top:155.2px;font-size:6.0px;color:#3a332e;transform:scaleX(0.834);">(aon:ıueu 12/1/52)</div>
<div class="a t" id="t178" style="left:526.0px;top:161.6px;font-size:6.0px;color:#3a332e;transform:scaleX(0.915);text-decoration:underline;text-decoration-color:rgba(60,60,60,.55);">nssunıs</div>
<div class="a t" id="t179" style="left:526.0px;top:168.0px;font-size:6.0px;color:#3a332e;transform:scaleX(0.893);">uıeauano n. (noJoJ)</div>
<div class="a t" id="t180" style="left:526.0px;top:174.4px;font-size:6.0px;color:#3a332e;transform:scaleX(0.867);">uıJusuns au) (23/01/55)</div>
<div class="a t" id="t181" style="left:526.0px;top:180.8px;font-size:6.0px;color:#3a332e;transform:scaleX(0.889);">uıelvnve n. (30/01/56)</div>
<div class="a t" id="t182" style="left:539.0px;top:191.7px;font-size:6.0px;color:#111;transform:scaleX(0.904);text-decoration:underline;text-decoration-color:rgba(60,60,60,.55);">Usıngvonssunısnuıoeonu</div>
<div class="a t" id="t183" style="left:539.0px;top:197.1px;font-size:6.0px;color:#111;transform:scaleX(0.883);">u.svınn ınnlulae an.</div>
<div class="a t" id="t184" style="left:539.0px;top:202.5px;font-size:6.0px;color:#111;transform:scaleX(0.915);text-decoration:underline;text-decoration-color:rgba(60,60,60,.55);">nssunıs</div>
<div class="a t" id="t185" style="left:539.0px;top:207.9px;font-size:6.0px;color:#111;transform:scaleX(0.639);">uıeauano n. (noJoJ) a.aunsaıns</div>
<div class="a t" id="t190" style="left:527.4px;top:217.1px;font-size:6.6px;font-weight:bold;color:#1c1c1c;transform:scaleX(0.743);">u.o.n.n. ouuoso ıonvUoso</div>
<div class="a t" id="t191" style="left:527.4px;top:224.3px;font-size:6.6px;font-weight:bold;color:#1c1c1c;transform:scaleX(0.732);">(2012) an.</div>
<div class="a t" id="t192" style="left:527.4px;top:231.7px;font-size:6.0px;color:#3a332e;transform:scaleX(0.861);">(aon:ıueu 29/1/55)</div>
<div class="a t" id="t193" style="left:527.4px;top:236.9px;font-size:6.0px;color:#3a332e;transform:scaleX(0.915);text-decoration:underline;text-decoration-color:rgba(60,60,60,.55);">nssunıs</div>
<div class="a t" id="t194" style="left:527.4px;top:242.1px;font-size:6.0px;color:#3a332e;transform:scaleX(0.932);">uıeuılun u.</div>
<div class="a t" id="t198" style="left:552.0px;top:255.7px;font-size:6.0px;color:#111;transform:scaleX(0.870);">u.noua lvıoos an.</div>
<div class="a t" id="t199" style="left:552.0px;top:262.0px;font-size:6.0px;color:#111;transform:scaleX(0.915);text-decoration:underline;text-decoration-color:rgba(60,60,60,.55);">nssunıs</div>
<div class="a t" id="t200" style="left:552.0px;top:268.3px;font-size:6.0px;color:#111;transform:scaleX(0.789);">uıJasoı e. a.aunsaıns</div>
<div class="a t" id="t201" style="left:528.0px;top:280.5px;font-size:6.0px;font-weight:bold;color:#111;transform:scaleX(0.767);">(ııaJwsuuouoıuıaaon:ıueu)</div>
<div class="a t" id="t202" style="left:527.0px;top:303.2px;font-size:6.6px;font-weight:bold;color:#1c1c1c;transform:scaleX(0.744);">u. oıoav 2013 an.</div>
<div class="a t" id="t203" style="left:527.0px;top:310.2px;font-size:6.0px;color:#3a332e;transform:scaleX(0.894);">(aon:ıueu 20/5/56)</div>
<div class="a t" id="t204" style="left:527.0px;top:316.1px;font-size:6.0px;color:#3a332e;transform:scaleX(0.915);text-decoration:underline;text-decoration-color:rgba(60,60,60,.55);">nssunıs</div>
<div class="a t" id="t205" style="left:527.0px;top:322.0px;font-size:6.0px;color:#3a332e;transform:scaleX(0.904);">uıJoıauı n. (noJoJ)</div>
<div class="a t" id="t206" style="left:527.0px;top:327.9px;font-size:6.0px;color:#3a332e;transform:scaleX(0.860);">uıeansnw v. (12/7/56)</div>
<div class="a t" id="t207" style="left:527.0px;top:352.8px;font-size:6.6px;font-weight:bold;color:#1c1c1c;transform:scaleX(0.761);">u.n.n.oııua ouıoos an.</div>
<div class="a t" id="t208" style="left:527.0px;top:359.2px;font-size:6.0px;color:#3a332e;transform:scaleX(0.836);">(aon:ıueu 16/12/52)</div>
<div class="a t" id="t209" style="left:527.0px;top:365.2px;font-size:6.0px;color:#3a332e;transform:scaleX(0.915);text-decoration:underline;text-decoration-color:rgba(60,60,60,.55);">nssunıs</div>
<div class="a t" id="t210" style="left:527.0px;top:371.2px;font-size:6.0px;color:#3a332e;transform:scaleX(0.876);">uıeussmomn o. (noJoJ)</div>
<div class="a t" id="t211" style="left:527.0px;top:377.2px;font-size:6.0px;color:#3a332e;transform:scaleX(0.929);">uıegınuwJa a. (noJoJ)</div>
<div class="a t" id="t214" style="left:720.0px;top:212.6px;font-size:13px;font-weight:bold;color:#1e1e1e;transform:scaleX(0.942);">aunsUsınıs 15 usun</div>
<div class="a " style="left:719px;top:226.3px;width:117px;height:1.2px;background:#333"></div>
<div class="a t" id="t215" style="left:630.4px;top:234.2px;font-size:6.6px;font-weight:bold;color:#1c1c1c;transform:scaleX(0.772);">u.ooa ıaaJ ouıoosınso an.</div>
<div class="a t" id="t216" style="left:649.6px;top:241.7px;font-size:6.0px;color:#3a332e;transform:scaleX(0.876);">(aon:ıueu 27/4/53)</div>
<div class="a t" id="t217" style="left:673.7px;top:248.8px;font-size:6.0px;color:#3a332e;transform:scaleX(0.915);text-decoration:underline;text-decoration-color:rgba(60,60,60,.55);">nssunıs</div>
<div class="a t" id="t218" style="left:668.2px;top:255.6px;font-size:6.0px;color:#3a332e;transform:scaleX(0.860);">uıeuoaa o.</div>
<div class="a t" id="t219" style="left:648.9px;top:263.0px;font-size:6.0px;color:#3a332e;transform:scaleX(0.956);">uıJıuuawunuuı a.</div>
<div class="a t" id="t221" style="left:650.1px;top:278.8px;font-size:6.0px;color:#3a332e;transform:scaleX(0.867);">(aon:ıueu 19/4/54)</div>
<div class="a t" id="t222" style="left:673.7px;top:285.1px;font-size:6.0px;color:#3a332e;transform:scaleX(0.915);text-decoration:underline;text-decoration-color:rgba(60,60,60,.55);">nssunıs</div>
<div class="a t" id="t223" style="left:648.9px;top:290.8px;font-size:6.0px;color:#3a332e;transform:scaleX(0.956);">uıJıuuawunuuı a.</div>
<div class="a t" id="t224" style="left:668.2px;top:297.7px;font-size:6.0px;color:#3a332e;transform:scaleX(0.860);">uıeuoaa o.</div>
<div class="a t" id="t226" style="left:650.1px;top:314.5px;font-size:6.0px;color:#3a332e;transform:scaleX(0.867);">(aon:ıueu 19/4/54)</div>
<div class="a t" id="t227" style="left:673.7px;top:321.0px;font-size:6.0px;color:#3a332e;transform:scaleX(0.915);text-decoration:underline;text-decoration-color:rgba(60,60,60,.55);">nssunıs</div>
<div class="a t" id="t228" style="left:649.0px;top:327.5px;font-size:6.0px;color:#3a332e;transform:scaleX(0.882);">uıeuJna s. (noJoJ)</div>
<div class="a t" id="t229" style="left:665.3px;top:334.0px;font-size:6.0px;color:#3a332e;transform:scaleX(0.899);">uıensmu w.</div>
<div class="a t" id="t230" style="left:695.0px;top:258.8px;font-size:6.6px;font-weight:bold;color:#1a1a1a;transform:scaleX(0.660);text-decoration:underline;text-decoration-color:rgba(60,60,60,.55);">noJıoeonu</div>
<div class="a t" id="t233" style="left:654.7px;top:346.3px;font-size:6.6px;font-weight:bold;color:#1c1c1c;transform:scaleX(0.755);">u.ooao(2012)an.</div>
<div class="a t" id="t234" style="left:650.1px;top:353.4px;font-size:6.0px;color:#3a332e;transform:scaleX(0.867);">(aon:ıueu 19/4/54)</div>
<div class="a t" id="t235" style="left:673.7px;top:360.1px;font-size:6.0px;color:#3a332e;transform:scaleX(0.915);text-decoration:underline;text-decoration-color:rgba(60,60,60,.55);">nssunıs</div>
<div class="a t" id="t236" style="left:662.9px;top:366.8px;font-size:6.0px;color:#3a332e;transform:scaleX(0.898);">uıeomuve n.</div>
<div class="a t" id="t237" style="left:640.3px;top:375.8px;font-size:6.6px;font-weight:bold;color:#1c1c1c;transform:scaleX(0.771);">u.vıon ouıoosınso an.</div>
<div class="a t" id="t238" style="left:650.1px;top:383.1px;font-size:6.0px;color:#3a332e;transform:scaleX(0.867);">(aon:ıueu 19/4/54)</div>
<div class="a t" id="t239" style="left:673.7px;top:390.0px;font-size:6.0px;color:#3a332e;transform:scaleX(0.915);text-decoration:underline;text-decoration-color:rgba(60,60,60,.55);">nssunıs</div>
<div class="a t" id="t240" style="left:644.2px;top:396.9px;font-size:6.0px;color:#3a332e;transform:scaleX(0.886);">uıeomuve n. (noJoJ)</div>
<div class="a t" id="t241" style="left:669.0px;top:403.8px;font-size:6.0px;color:#3a332e;transform:scaleX(0.834);">u.a.ınau n.</div>
<div class="a t" id="t242" style="left:695.0px;top:370.3px;font-size:6.6px;font-weight:bold;color:#1a1a1a;transform:scaleX(0.660);text-decoration:underline;text-decoration-color:rgba(60,60,60,.55);">noJıoeonu</div>
<div class="a t" id="t245" style="left:690.0px;top:410.8px;font-size:6.0px;color:#3a332e;transform:scaleX(1.000);"></div>
<div class="a t" id="t247" style="left:647.6px;top:426.3px;font-size:6.6px;font-weight:bold;color:#1c1c1c;transform:scaleX(0.794);">u.anıuoıooslvavu an.</div>
<div class="a t" id="t248" style="left:657.2px;top:433.8px;font-size:6.0px;color:#3a332e;transform:scaleX(0.861);">(aon:ıueu 21/6/55)</div>
<div class="a t" id="t249" style="left:680.5px;top:440.9px;font-size:6.0px;color:#3a332e;transform:scaleX(0.915);text-decoration:underline;text-decoration-color:rgba(60,60,60,.55);">nssunıs</div>
<div class="a t" id="t250" style="left:650.2px;top:448.0px;font-size:6.0px;color:#3a332e;transform:scaleX(0.873);">u.a.ıuuaoo s. (noJoJ)</div>
<div class="a t" id="t251" style="left:679.8px;top:455.1px;font-size:6.0px;color:#3a332e;transform:scaleX(0.773);">17/12/56)</div>
<div class="a t" id="t253" style="left:645.4px;top:470.8px;font-size:6.6px;font-weight:bold;color:#1c1c1c;transform:scaleX(0.771);">u.uıoıoosoaooalon an.</div>
<div class="a t" id="t254" style="left:657.2px;top:478.2px;font-size:6.0px;color:#3a332e;transform:scaleX(0.861);">(aon:ıueu 21/6/55)</div>
<div class="a t" id="t255" style="left:680.5px;top:485.2px;font-size:6.0px;color:#3a332e;transform:scaleX(0.915);text-decoration:underline;text-decoration-color:rgba(60,60,60,.55);">nssunıs</div>
<div class="a t" id="t256" style="left:655.8px;top:492.2px;font-size:6.0px;color:#3a332e;transform:scaleX(0.908);">uıeavıo o. (noJoJ)</div>
<div class="a t" id="t257" style="left:679.8px;top:499.2px;font-size:6.0px;color:#3a332e;transform:scaleX(0.773);">17/12/56)</div>
<div class="a t" id="t259" style="left:653.3px;top:505.8px;font-size:6.6px;font-weight:bold;color:#1c1c1c;transform:scaleX(0.754);">u.ooJoo noulUs an.</div>
<div class="a t" id="t260" style="left:655.8px;top:513.2px;font-size:6.0px;color:#3a332e;transform:scaleX(0.889);">(aon:ıueu 28/6/55)</div>
<div class="a t" id="t261" style="left:680.5px;top:520.2px;font-size:6.0px;color:#3a332e;transform:scaleX(0.915);text-decoration:underline;text-decoration-color:rgba(60,60,60,.55);">nssunıs</div>
<div class="a t" id="t262" style="left:655.9px;top:527.2px;font-size:6.0px;color:#3a332e;transform:scaleX(0.836);">u.a.asws a. (noJoJ)</div>
<div class="a t" id="t263" style="left:681.2px;top:534.2px;font-size:6.0px;color:#3a332e;transform:scaleX(0.880);">(4/7/56)</div>
<div class="a t" id="t265" style="left:607.0px;top:469.3px;font-size:6.6px;font-weight:bold;color:#1a1a1a;transform:scaleX(0.610);">noeoonu</div>
<div class="a t" id="t266" style="left:617.0px;top:509.1px;font-size:6.6px;font-weight:bold;color:#1a1a1a;transform:scaleX(0.660);text-decoration:underline;text-decoration-color:rgba(60,60,60,.55);">noJıoeonu</div>
<div class="a t" id="t267" style="left:741.0px;top:274.5px;font-size:6.6px;font-weight:bold;color:#1a1a1a;transform:scaleX(0.660);text-decoration:underline;text-decoration-color:rgba(60,60,60,.55);">noJıoeonu</div>
<div class="a t" id="t268" style="left:766.0px;top:251.0px;font-size:6.6px;font-weight:bold;color:#1c1c1c;transform:scaleX(0.753);">u.lo-ııvW an.</div>
<div class="a t" id="t269" style="left:766.0px;top:258.6px;font-size:6.0px;color:#3a332e;transform:scaleX(0.837);">(aon:ıueu 16/12/53)</div>
<div class="a t" id="t270" style="left:766.0px;top:265.8px;font-size:6.0px;color:#3a332e;transform:scaleX(0.915);text-decoration:underline;text-decoration-color:rgba(60,60,60,.55);">nssunıs</div>
<div class="a t" id="t271" style="left:766.0px;top:273.0px;font-size:6.0px;color:#3a332e;transform:scaleX(0.900);">uıJnanne a.</div>
<div class="a t" id="t272" style="left:766.0px;top:282.0px;font-size:6.6px;font-weight:bold;color:#1c1c1c;transform:scaleX(0.755);">u.woeııon an.</div>
<div class="a t" id="t273" style="left:766.0px;top:289.4px;font-size:6.0px;color:#3a332e;transform:scaleX(0.826);">(aon:ıueu 11/1/54)</div>
<div class="a t" id="t274" style="left:766.0px;top:296.4px;font-size:6.0px;color:#3a332e;transform:scaleX(0.915);text-decoration:underline;text-decoration-color:rgba(60,60,60,.55);">nssunıs</div>
<div class="a t" id="t275" style="left:766.0px;top:303.4px;font-size:6.0px;color:#3a332e;transform:scaleX(0.900);">uıJnanne a.</div>
<div class="a t" id="t279" style="left:776.2px;top:321.3px;font-size:6.6px;font-weight:bold;color:#1c1c1c;transform:scaleX(0.792);">u.ooalonouıoaıu an.</div>
<div class="a t" id="t280" style="left:782.9px;top:328.7px;font-size:6.0px;color:#3a332e;transform:scaleX(0.867);">(aon:ıueu 10/7/55)</div>
<div class="a t" id="t281" style="left:806.6px;top:335.7px;font-size:6.0px;color:#3a332e;transform:scaleX(0.915);text-decoration:underline;text-decoration-color:rgba(60,60,60,.55);">nssunıs</div>
<div class="a t" id="t282" style="left:797.5px;top:342.7px;font-size:6.0px;color:#3a332e;transform:scaleX(0.882);">uıeoouun o.</div>
<div class="a t" id="t283" style="left:756.5px;top:355.6px;font-size:6.6px;font-weight:bold;color:#1c1c1c;transform:scaleX(0.759);">u.ıwosıWnnln ouıoosınso an.</div>
<div class="a t" id="t284" style="left:782.9px;top:362.7px;font-size:6.0px;color:#3a332e;transform:scaleX(0.867);">(aon:ıueu 10/7/55)</div>
<div class="a t" id="t285" style="left:806.6px;top:369.4px;font-size:6.0px;color:#3a332e;transform:scaleX(0.915);text-decoration:underline;text-decoration-color:rgba(60,60,60,.55);">nssunıs</div>
<div class="a t" id="t286" style="left:798.0px;top:376.1px;font-size:6.0px;color:#3a332e;transform:scaleX(0.868);">u.a.anaoı u.</div>
<div class="a t" id="t287" style="left:744.5px;top:409.6px;font-size:6.6px;font-weight:bold;color:#1a1a1a;transform:scaleX(0.630);">noJıoeonu</div>
<div class="a t" id="t289" style="left:768.0px;top:397.6px;font-size:6.0px;color:#3a332e;transform:scaleX(0.825);">(lulosuıJununıuaınasswıns)</div>
<div class="a t" id="t290" style="left:768.0px;top:409.6px;font-size:6.6px;font-weight:bold;color:#1c1c1c;transform:scaleX(0.755);">u.uunswe nouwoıoos an.</div>
<div class="a t" id="t291" style="left:768.0px;top:417.0px;font-size:6.0px;color:#3a332e;transform:scaleX(0.844);">(aon:ıueu 24/11/54)</div>
<div class="a t" id="t292" style="left:768.0px;top:424.0px;font-size:6.0px;color:#3a332e;transform:scaleX(0.915);text-decoration:underline;text-decoration-color:rgba(60,60,60,.55);">nssunıs</div>
<div class="a t" id="t293" style="left:768.0px;top:431.0px;font-size:6.0px;color:#3a332e;transform:scaleX(0.882);">uıeoouun o.</div>
<div class="a t" id="t294" style="left:768.0px;top:441.0px;font-size:6.6px;font-weight:bold;color:#1c1c1c;transform:scaleX(0.758);">u.nsuınn nouwoıoos an.</div>
<div class="a t" id="t295" style="left:768.0px;top:448.6px;font-size:6.0px;color:#3a332e;transform:scaleX(0.844);">(aon:ıueu 24/11/54)</div>
<div class="a t" id="t296" style="left:768.0px;top:455.8px;font-size:6.0px;color:#3a332e;transform:scaleX(0.915);text-decoration:underline;text-decoration-color:rgba(60,60,60,.55);">nssunıs</div>
<div class="a t" id="t297" style="left:768.0px;top:463.0px;font-size:6.0px;color:#3a332e;transform:scaleX(0.868);">u.a.anaoı u.</div>
<div class="a t" id="t304" style="left:805.0px;top:480.0px;font-size:7.2px;color:#1a1a1a;transform:scaleX(0.763);text-decoration:underline;text-decoration-color:rgba(60,60,60,.55);">Usıngvonssunıs</div>
<div class="a t" id="t305" style="left:824.0px;top:487.0px;font-size:7.2px;color:#1a1a1a;transform:scaleX(0.667);text-decoration:underline;text-decoration-color:rgba(60,60,60,.55);">nuıoeonu</div>
<div class="a t" id="t306" style="left:728.0px;top:521.5px;font-size:7.2px;color:#1a1a1a;transform:scaleX(0.772);text-decoration:underline;text-decoration-color:rgba(60,60,60,.55);">Usıngvonssunıs</div>
<div class="a t" id="t307" style="left:728.0px;top:528.5px;font-size:7.2px;color:#1a1a1a;transform:scaleX(0.734);text-decoration:underline;text-decoration-color:rgba(60,60,60,.55);">nuıoeonu</div>
<div class="a t" id="t311" style="left:351.7px;top:477.6px;font-size:13px;font-weight:bold;color:#1e1e1e;transform:scaleX(0.834);">aunsaıns 7 usun</div>
<div class="a " style="left:351px;top:490.6px;width:87px;height:1.2px;background:#222"></div>
<div class="a t" id="t312" style="left:406.6px;top:502.6px;font-size:6.6px;font-weight:bold;color:#1c1c1c;transform:scaleX(0.742);">u. ıa.ıonvUu (2012) an.</div>
<div class="a t" id="t313" style="left:413.1px;top:510.4px;font-size:6.0px;color:#3a332e;transform:scaleX(0.863);">(aon:ıueu 27/10/54)</div>
<div class="a t" id="t314" style="left:439.4px;top:517.8px;font-size:6.0px;color:#3a332e;transform:scaleX(0.915);text-decoration:underline;text-decoration-color:rgba(60,60,60,.55);">nssunıs</div>
<div class="a t" id="t315" style="left:431.3px;top:525.2px;font-size:6.0px;color:#3a332e;transform:scaleX(0.828);">u.a.usuns u.</div>
<div class="a t" id="t316" style="left:363.2px;top:536.8px;font-size:6.6px;font-weight:bold;color:#1c1c1c;transform:scaleX(0.777);">u. va ııouo ıa ouıoosınso(Us:ınalne) an.</div>
<div class="a t" id="t317" style="left:416.1px;top:544.9px;font-size:6.0px;color:#3a332e;transform:scaleX(0.861);">(aon:ıueu 16/2/55)</div>
<div class="a t" id="t318" style="left:439.4px;top:552.7px;font-size:6.0px;color:#3a332e;transform:scaleX(0.915);text-decoration:underline;text-decoration-color:rgba(60,60,60,.55);">nssunıs</div>
<div class="a t" id="t319" style="left:430.7px;top:560.4px;font-size:6.0px;color:#3a332e;transform:scaleX(0.928);">u.a.ouua s.</div>
<div class="a t" id="t320" style="left:411.3px;top:568.2px;font-size:6.0px;color:#3a332e;transform:scaleX(0.796);">u.a. aıon o. (10u.n.55)</div>
<div class="a t" id="t321" style="left:417.2px;top:581.5px;font-size:6.6px;font-weight:bold;color:#1c1c1c;transform:scaleX(0.764);">u.noua lsıoos an.</div>
<div class="a t" id="t322" style="left:414.9px;top:589.4px;font-size:6.0px;color:#3a332e;transform:scaleX(0.885);">(aon:ıueu 24/8/55)</div>
<div class="a t" id="t323" style="left:439.4px;top:597.0px;font-size:6.0px;color:#3a332e;transform:scaleX(0.915);text-decoration:underline;text-decoration-color:rgba(60,60,60,.55);">nssunıs</div>
<div class="a t" id="t324" style="left:434.4px;top:604.5px;font-size:6.0px;color:#3a332e;transform:scaleX(0.854);">u.a.usoı e.</div>
<div class="a t" id="t325" style="left:462.5px;top:510.8px;font-size:6.6px;font-weight:bold;color:#1a1a1a;transform:scaleX(0.660);text-decoration:underline;text-decoration-color:rgba(60,60,60,.55);">noJıoeonu</div>
<div class="a t" id="t326" style="left:530.2px;top:502.4px;font-size:6.6px;font-weight:bold;color:#1c1c1c;transform:scaleX(0.790);">u.svınn ınnlulae an.</div>
<div class="a t" id="t327" style="left:530.2px;top:510.7px;font-size:6.0px;color:#3a332e;transform:scaleX(0.863);">(aon:ıueu 27/10/54)</div>
<div class="a t" id="t328" style="left:530.2px;top:518.7px;font-size:6.0px;color:#3a332e;transform:scaleX(0.915);text-decoration:underline;text-decoration-color:rgba(60,60,60,.55);">nssunıs</div>
<div class="a t" id="t329" style="left:530.2px;top:526.6px;font-size:6.0px;color:#3a332e;transform:scaleX(0.842);">u.a.usuns u. (noJoJ)</div>
<div class="a t" id="t330" style="left:530.2px;top:534.6px;font-size:6.0px;color:#3a332e;transform:scaleX(0.893);">u.a.ouuısun n. (10/10/55)</div>
<div class="a t" id="t331" style="left:530.2px;top:542.4px;font-size:6.6px;font-weight:bold;color:#1c1c1c;transform:scaleX(0.800);">u.ıvın ıoıve an.</div>
<div class="a t" id="t332" style="left:530.2px;top:550.3px;font-size:6.0px;color:#3a332e;transform:scaleX(0.871);">(aon:ıueu 26/10/54)</div>
<div class="a t" id="t333" style="left:530.2px;top:557.8px;font-size:6.0px;color:#3a332e;transform:scaleX(0.915);text-decoration:underline;text-decoration-color:rgba(60,60,60,.55);">nssunıs</div>
<div class="a t" id="t334" style="left:530.2px;top:565.3px;font-size:6.0px;color:#3a332e;transform:scaleX(0.887);">uıeousnu o.</div>
<div class="a t" id="t335" style="left:531.0px;top:580.4px;font-size:6.6px;font-weight:bold;color:#1c1c1c;transform:scaleX(0.764);">u. ouııounoaooa nouwoıoos an.</div>
<div class="a t" id="t336" style="left:531.0px;top:588.3px;font-size:6.0px;color:#3a332e;transform:scaleX(0.842);">(aon:ıueu 15/1/56)</div>
<div class="a t" id="t337" style="left:531.0px;top:595.8px;font-size:6.0px;color:#3a332e;transform:scaleX(0.915);text-decoration:underline;text-decoration-color:rgba(60,60,60,.55);">nssunıs</div>
<div class="a t" id="t338" style="left:531.0px;top:603.3px;font-size:6.0px;color:#3a332e;transform:scaleX(0.928);">u.a.ouua s.</div>
<div class="a t" id="t339" style="left:531.0px;top:625.4px;font-size:6.6px;font-weight:bold;color:#1c1c1c;transform:scaleX(0.763);">u.loıuan nouwoıoos an.</div>
<div class="a t" id="t340" style="left:531.0px;top:633.3px;font-size:6.0px;color:#3a332e;transform:scaleX(0.842);">(aon:ıueu 15/1/56)</div>
<div class="a t" id="t341" style="left:531.0px;top:640.8px;font-size:6.0px;color:#3a332e;transform:scaleX(0.915);text-decoration:underline;text-decoration-color:rgba(60,60,60,.55);">nssunıs</div>
<div class="a t" id="t342" style="left:531.0px;top:648.3px;font-size:6.0px;color:#3a332e;transform:scaleX(0.881);">uıeuuaoo o.</div>
<div class="a t" id="t343" style="left:500.5px;top:510.6px;font-size:6.6px;font-weight:bold;color:#1a1a1a;transform:scaleX(0.660);text-decoration:underline;text-decoration-color:rgba(60,60,60,.55);">noJıoeonu</div>
<div class="a t" id="t350" style="left:374.5px;top:637.8px;font-size:6.6px;font-weight:bold;color:#111;transform:scaleX(0.855);text-decoration:underline;text-decoration-color:rgba(60,60,60,.55);">uıegınuwJa a.</div>
<div class="a t" id="t351" style="left:412.5px;top:664.3px;font-size:6.6px;font-weight:bold;color:#111;transform:scaleX(0.857);">(wsuuouoıuıaıUaeunssunıs)</div>
<div class="a t" id="t44" style="left:58.0px;top:287.1px;font-size:7.2px;color:#0c2a14;transform:scaleX(0.940);">uıeanus n.</div>
<div class="a t" id="t87" style="left:241.5px;top:232.2px;font-size:7.2px;color:#3a0000;transform:scaleX(0.972);">uıemnua v.</div>
<div class="a t" id="t116" style="left:416.8px;top:143.5px;font-size:6.0px;color:#3a0000;transform:scaleX(0.924);">uıemnua v.</div>
<div class="a t" id="t132" style="left:417.2px;top:255.2px;font-size:6.0px;color:#3a0000;transform:scaleX(0.924);">uıemnua v.</div>
<div class="a t" id="t149" style="left:416.8px;top:379.4px;font-size:6.0px;color:#3a0000;transform:scaleX(0.924);">uıemnua v.</div>
<div class="a t" id="t167" style="left:526.5px;top:86.6px;font-size:6.6px;font-weight:bold;color:#1c1c1c;transform:scaleX(0.722);">u.ıoııouo ıoıonvUu (2012)an.</div>
<div class="a t" id="t168" style="left:526.5px;top:113.4px;font-size:6.6px;font-weight:bold;color:#1c1c1c;transform:scaleX(0.718);">u.vıa ıonvUu (2012)an.</div>
<div class="a t" id="t246" style="left:654.0px;top:410.8px;font-size:6.0px;color:#300;transform:scaleX(0.992);">uıemnua v.</div>
<div class="a t" id="t252" style="left:643.8px;top:455.1px;font-size:6.0px;color:#300;transform:scaleX(0.992);">uıemnua v.</div>
<div class="a t" id="t258" style="left:643.8px;top:499.2px;font-size:6.0px;color:#300;transform:scaleX(0.992);">uıemnua v.</div>
<div class="a t" id="t264" style="left:640.2px;top:534.2px;font-size:6.0px;color:#300;transform:scaleX(1.171);">uıeansnw v.</div>
<div class="a t" id="t220" style="left:634.0px;top:270.0px;font-size:6.6px;font-weight:bold;color:#0a1a0a;transform:scaleX(0.781);">u.nsuıUoıou vwwaıe an.</div>
<div class="a t" id="t225" style="left:643.4px;top:305.7px;font-size:6.6px;font-weight:bold;color:#0a1a0a;transform:scaleX(0.771);">u.nuouıoosınso an.</div>
<div class="a t" id="t231" style="left:600.0px;top:274.7px;font-size:6.0px;color:#222;transform:scaleX(0.843);text-decoration:underline;text-decoration-color:rgba(60,60,60,.55);">Usıngvonssunıs</div>
<div class="a t" id="t232" style="left:608.0px;top:281.2px;font-size:6.0px;color:#222;transform:scaleX(0.799);text-decoration:underline;text-decoration-color:rgba(60,60,60,.55);">nuıoeonu</div>
<div class="a t" id="t243" style="left:599.0px;top:380.2px;font-size:6.0px;color:#222;transform:scaleX(0.890);text-decoration:underline;text-decoration-color:rgba(60,60,60,.55);">Usıngvonssunıs</div>
<div class="a t" id="t244" style="left:607.5px;top:386.7px;font-size:6.0px;color:#222;transform:scaleX(0.839);text-decoration:underline;text-decoration-color:rgba(60,60,60,.55);">nuıoeonu</div>
<div class="a t" id="t276" style="left:811.5px;top:285.7px;font-size:6.0px;color:#1a1a1a;transform:scaleX(0.843);text-decoration:underline;text-decoration-color:rgba(60,60,60,.55);">Usıngvonssunıs</div>
<div class="a t" id="t277" style="left:822.5px;top:292.0px;font-size:6.0px;color:#1a1a1a;transform:scaleX(0.839);text-decoration:underline;text-decoration-color:rgba(60,60,60,.55);">nuıoeonu</div>
<div class="a t" id="t288" style="left:768.0px;top:388.9px;font-size:6.6px;font-weight:bold;color:#0a1a0a;transform:scaleX(0.764);">u.lonnsUıUawaa an.</div>
<div class="a t" id="t298" style="left:745.5px;top:473.5px;font-size:7.2px;color:#1a1a1a;transform:scaleX(0.771);text-decoration:underline;text-decoration-color:rgba(60,60,60,.55);">Usıngvowaouuuv</div>
<div class="a t" id="t299" style="left:745.5px;top:481.1px;font-size:7.2px;color:#1a1a1a;transform:scaleX(0.709);text-decoration:underline;text-decoration-color:rgba(60,60,60,.55);">nuıoeonu 8 usun</div>
<div class="a t" id="t300" style="left:745.5px;top:488.8px;font-size:7.2px;color:#1a1a1a;transform:scaleX(0.834);text-decoration:underline;text-decoration-color:rgba(60,60,60,.55);">uıeaoo a.</div>
<div class="a t" id="t301" style="left:745.5px;top:496.5px;font-size:7.2px;color:#1a1a1a;transform:scaleX(0.752);text-decoration:underline;text-decoration-color:rgba(60,60,60,.55);">Usıngvowsuuouoıuıaaon:ıueu</div>
<div class="a t" id="t302" style="left:745.5px;top:504.1px;font-size:7.2px;color:#1a1a1a;transform:scaleX(0.709);text-decoration:underline;text-decoration-color:rgba(60,60,60,.55);">nuıoeonu 8 usun</div>
<div class="a t" id="t303" style="left:745.5px;top:511.8px;font-size:7.2px;color:#1a1a1a;transform:scaleX(0.753);text-decoration:underline;text-decoration-color:rgba(60,60,60,.55);">uıesuunve o.</div>
<div class="a t" id="t308" style="left:730.0px;top:540.0px;font-size:7.2px;color:#1a1a1a;transform:scaleX(0.773);text-decoration:underline;text-decoration-color:rgba(60,60,60,.55);">lvvowsuuouoıuıaaon:ıueu</div>
<div class="a t" id="t309" style="left:730.0px;top:547.3px;font-size:7.2px;color:#1a1a1a;transform:scaleX(0.756);text-decoration:underline;text-decoration-color:rgba(60,60,60,.55);">ııa:waouuuvnuıoeonu</div>
<div class="a t" id="t310" style="left:730.0px;top:554.6px;font-size:7.2px;color:#1a1a1a;transform:scaleX(0.737);text-decoration:underline;text-decoration-color:rgba(60,60,60,.55);">uıegınuwJa a.</div>
<div class="a " style="left:365px;top:205px;width:35px;height:13.6px;background:linear-gradient(#d9d9d9,#bbbbbb);box-shadow:1px 2px 2px rgba(0,0,0,.45)"></div>
<div class="a " style="left:365px;top:317px;width:39px;height:15px;background:linear-gradient(#d9d9d9,#bbbbbb);box-shadow:1px 2px 2px rgba(0,0,0,.45)"></div>
<div class="a " style="left:488px;top:114px;width:31.6px;height:13px;background:linear-gradient(#d9d9d9,#bbbbbb);box-shadow:1px 2px 2px rgba(0,0,0,.45)"></div>
<div class="a " style="left:478px;top:179px;width:36px;height:15px;background:linear-gradient(#d9d9d9,#bbbbbb);box-shadow:1px 2px 2px rgba(0,0,0,.45)"></div>
<div class="a " style="left:499px;top:253.4px;width:49px;height:20.4px;background:linear-gradient(#d9d9d9,#bbbbbb);box-shadow:1px 2px 2px rgba(0,0,0,.45)"></div>
<div class="a " style="left:488px;top:362px;width:32px;height:13.6px;background:linear-gradient(#d9d9d9,#bbbbbb);box-shadow:1px 2px 2px rgba(0,0,0,.45)"></div>
<div class="a " style="left:746.5px;top:346px;width:24px;height:9.6px;background:#f2f2f2;box-shadow:1px 1px 2px rgba(0,0,0,.3)"></div>
<div class="a " style="left:500.4px;top:592.5px;width:23px;height:8.2px;background:linear-gradient(#e8e8e8,#c4c4c4);box-shadow:1px 1px 2px rgba(0,0,0,.35)"></div>
<div class="a " style="left:468px;top:521px;width:47.5px;height:19px;background:linear-gradient(#d9d9d9,#bbbbbb);box-shadow:1px 2px 2px rgba(0,0,0,.45)"></div>
<div class="a " style="left:358px;top:619px;width:72px;height:12.5px;background:linear-gradient(#d9d9d9,#bbbbbb);box-shadow:1px 2px 2px rgba(0,0,0,.45)"></div>
<div class="a " style="left:438.5px;top:631.5px;width:49px;height:20.5px;background:linear-gradient(#d9d9d9,#bbbbbb);box-shadow:1px 2px 2px rgba(0,0,0,.45)"></div>
<div class="a t" id="t163" style="left:372.5px;top:206.0px;font-size:6.0px;color:#222;transform:scaleX(0.904);text-decoration:underline;text-decoration-color:rgba(60,60,60,.55);">Usıngvo</div>
<div class="a t" id="t164" style="left:361.8px;top:211.9px;font-size:6.0px;color:#222;transform:scaleX(0.904);">nssunısnuıoeonu</div>
<div class="a t" id="t165" style="left:374.5px;top:318.4px;font-size:6.0px;color:#222;transform:scaleX(0.904);text-decoration:underline;text-decoration-color:rgba(60,60,60,.55);">Usıngvo</div>
<div class="a t" id="t166" style="left:363.8px;top:324.9px;font-size:6.0px;color:#222;transform:scaleX(0.904);">nssunısnuıoeonu</div>
<div class="a t" id="t186" style="left:493.8px;top:114.9px;font-size:6.0px;color:#222;transform:scaleX(0.904);text-decoration:underline;text-decoration-color:rgba(60,60,60,.55);">Usıngvo</div>
<div class="a t" id="t187" style="left:483.1px;top:120.5px;font-size:6.0px;color:#222;transform:scaleX(0.904);">nssunısnuıoeonu</div>
<div class="a t" id="t188" style="left:486.0px;top:180.4px;font-size:6.0px;color:#222;transform:scaleX(0.904);text-decoration:underline;text-decoration-color:rgba(60,60,60,.55);">Usıngvo</div>
<div class="a t" id="t189" style="left:475.3px;top:186.9px;font-size:6.0px;color:#222;transform:scaleX(0.904);">nssunısnuıoeonu</div>
<div class="a t" id="t195" style="left:497.3px;top:254.6px;font-size:6.0px;color:#222;transform:scaleX(0.912);text-decoration:underline;text-decoration-color:rgba(60,60,60,.55);">wsuuouoıuıaaon:ıueu</div>
<div class="a t" id="t196" style="left:503.8px;top:260.8px;font-size:6.0px;color:#222;transform:scaleX(0.882);">nuıoeonu 6 usun</div>
<div class="a t" id="t197" style="left:511.2px;top:267.0px;font-size:6.0px;color:#222;transform:scaleX(0.880);">uıJuoaa a.</div>
<div class="a t" id="t212" style="left:494.0px;top:363.0px;font-size:6.0px;color:#222;transform:scaleX(0.904);text-decoration:underline;text-decoration-color:rgba(60,60,60,.55);">Usıngvo</div>
<div class="a t" id="t213" style="left:483.3px;top:368.9px;font-size:6.0px;color:#222;transform:scaleX(0.904);">nssunısnuıoeonu</div>
<div class="a t" id="t345" style="left:481.0px;top:523.2px;font-size:6.6px;color:#222;transform:scaleX(0.888);text-decoration:underline;text-decoration-color:rgba(60,60,60,.55);">Usıngvo</div>
<div class="a t" id="t346" style="left:469.4px;top:531.5px;font-size:6.6px;color:#222;transform:scaleX(0.889);text-decoration:underline;text-decoration-color:rgba(60,60,60,.55);">nssunısnuıoeonu</div>
<div class="a t" id="t347" style="left:370.4px;top:622.1px;font-size:6.6px;color:#222;transform:scaleX(0.889);">aon:ıueunuıoeonu</div>
<div class="a t" id="t348" style="left:452.2px;top:634.1px;font-size:6.6px;color:#222;transform:scaleX(0.888);text-decoration:underline;text-decoration-color:rgba(60,60,60,.55);">Usıngvo</div>
<div class="a t" id="t349" style="left:440.7px;top:643.0px;font-size:6.6px;color:#222;transform:scaleX(0.889);text-decoration:underline;text-decoration-color:rgba(60,60,60,.55);">nssunısnuıoeonu</div>
<div class="a " style="left:10.3px;top:77.5px;width:28.7px;height:26px;background:#f4f4f2;box-shadow:1px 1px 2px rgba(0,0,0,.35)"></div>
<div class="a " style="left:20.5px;top:262px;width:29.5px;height:27px;background:#f4f4f2;box-shadow:1px 1px 2px rgba(0,0,0,.35)"></div>
<div class="a " style="left:134px;top:262px;width:30px;height:27px;background:#f4f4f2;box-shadow:1px 1px 2px rgba(0,0,0,.35)"></div>
<div class="a " style="left:18px;top:505px;width:29px;height:26px;background:#f4f4f2;box-shadow:1px 1px 2px rgba(0,0,0,.35)"></div>
<div class="a " style="left:223px;top:454.6px;width:29px;height:26px;background:#f4f4f2;box-shadow:1px 1px 2px rgba(0,0,0,.35)"></div>
<div class="a t" id="t278" style="left:748.5px;top:347.8px;font-size:6.6px;font-weight:bold;color:#111;transform:scaleX(0.719);">noeoonu</div>
<div class="a t" id="t344" style="left:502.5px;top:593.8px;font-size:6.0px;font-weight:bold;color:#111;transform:scaleX(0.751);">noJoonu</div>
<div class="a t" id="t11" style="left:13.9px;top:79.2px;font-size:6.6px;color:#222;transform:scaleX(0.888);text-decoration:underline;text-decoration-color:rgba(60,60,60,.55);">Usıngvo</div>
<div class="a t" id="t12" style="left:14.4px;top:87.3px;font-size:6.6px;color:#222;transform:scaleX(0.898);text-decoration:underline;text-decoration-color:rgba(60,60,60,.55);">nssunıs</div>
<div class="a t" id="t13" style="left:12.5px;top:95.5px;font-size:6.6px;color:#222;transform:scaleX(0.880);">nuıoeonu</div>
<div class="a t" id="t73" style="left:24.5px;top:263.9px;font-size:6.6px;color:#222;transform:scaleX(0.888);text-decoration:underline;text-decoration-color:rgba(60,60,60,.55);">Usıngvo</div>
<div class="a t" id="t74" style="left:25.0px;top:272.3px;font-size:6.6px;color:#222;transform:scaleX(0.898);text-decoration:underline;text-decoration-color:rgba(60,60,60,.55);">nssunıs</div>
<div class="a t" id="t75" style="left:23.1px;top:280.8px;font-size:6.6px;color:#222;transform:scaleX(0.880);">nuıoeonu</div>
<div class="a t" id="t76" style="left:138.2px;top:263.9px;font-size:6.6px;color:#222;transform:scaleX(0.888);text-decoration:underline;text-decoration-color:rgba(60,60,60,.55);">Usıngvo</div>
<div class="a t" id="t77" style="left:138.8px;top:272.3px;font-size:6.6px;color:#222;transform:scaleX(0.898);text-decoration:underline;text-decoration-color:rgba(60,60,60,.55);">nssunıs</div>
<div class="a t" id="t78" style="left:136.9px;top:280.8px;font-size:6.6px;color:#222;transform:scaleX(0.880);">nuıoeonu</div>
<div class="a t" id="t79" style="left:21.7px;top:506.7px;font-size:6.6px;color:#222;transform:scaleX(0.888);text-decoration:underline;text-decoration-color:rgba(60,60,60,.55);">Usıngvo</div>
<div class="a t" id="t80" style="left:22.3px;top:514.8px;font-size:6.6px;color:#222;transform:scaleX(0.898);text-decoration:underline;text-decoration-color:rgba(60,60,60,.55);">nssunıs</div>
<div class="a t" id="t81" style="left:20.4px;top:523.0px;font-size:6.6px;color:#222;transform:scaleX(0.880);">nuıoeonu</div>
<div class="a t" id="t102" style="left:226.7px;top:456.3px;font-size:6.6px;color:#222;transform:scaleX(0.888);text-decoration:underline;text-decoration-color:rgba(60,60,60,.55);">Usıngvo</div>
<div class="a t" id="t103" style="left:227.3px;top:464.4px;font-size:6.6px;color:#222;transform:scaleX(0.898);text-decoration:underline;text-decoration-color:rgba(60,60,60,.55);">nssunıs</div>
<div class="a t" id="t104" style="left:225.4px;top:472.6px;font-size:6.6px;color:#222;transform:scaleX(0.880);">nuıoeonu</div>
<svg class="a" style="left:18px;top:34.5px" width="34" height="25" viewBox="0 0 36 26" preserveAspectRatio="none"><use href="#h"/></svg>
<svg class="a" style="left:15.5px;top:106.5px" width="35" height="25" viewBox="0 0 36 26" preserveAspectRatio="none"><use href="#h"/></svg>
<svg class="a" style="left:16px;top:441px" width="35" height="25" viewBox="0 0 36 26" preserveAspectRatio="none"><use href="#h"/></svg>
<svg class="a" style="left:198px;top:172.8px" width="34.5" height="24.5" viewBox="0 0 36 26" preserveAspectRatio="none"><use href="#h"/></svg>
<svg class="a" style="left:200px;top:376px" width="35" height="25" viewBox="0 0 36 26" preserveAspectRatio="none"><use href="#h"/></svg>
<svg class="a" style="left:466px;top:74.5px" width="22" height="16" viewBox="0 0 36 26" preserveAspectRatio="none"><use href="#h"/></svg>
<svg class="a" style="left:466px;top:219px" width="22" height="16" viewBox="0 0 36 26" preserveAspectRatio="none"><use href="#h"/></svg>
<svg class="a" style="left:466px;top:260px" width="22" height="16" viewBox="0 0 36 26" preserveAspectRatio="none"><use href="#h"/></svg>
<svg class="a" style="left:466px;top:342px" width="22" height="16" viewBox="0 0 36 26" preserveAspectRatio="none"><use href="#h"/></svg>
<svg class="a" style="left:466px;top:386.6px" width="22" height="16" viewBox="0 0 36 26" preserveAspectRatio="none"><use href="#h"/></svg>
<svg class="a" style="left:500.5px;top:77px" width="21" height="13" viewBox="0 0 36 26" preserveAspectRatio="none"><use href="#h"/></svg>
<svg class="a" style="left:500.4px;top:142px" width="21" height="16" viewBox="0 0 36 26" preserveAspectRatio="none"><use href="#h"/></svg>
<svg class="a" style="left:500px;top:210px" width="22" height="15" viewBox="0 0 36 26" preserveAspectRatio="none"><use href="#h"/></svg>
<svg class="a" style="left:500px;top:287px" width="22" height="17" viewBox="0 0 36 26" preserveAspectRatio="none"><use href="#h"/></svg>
<svg class="a" style="left:500px;top:340px" width="22" height="19" viewBox="0 0 36 26" preserveAspectRatio="none"><use href="#h"/></svg>
<svg class="a" style="left:695px;top:241px" width="23" height="17.5" viewBox="0 0 36 26" preserveAspectRatio="none"><use href="#h"/></svg>
<svg class="a" style="left:694px;top:352px" width="24" height="18" viewBox="0 0 36 26" preserveAspectRatio="none"><use href="#h"/></svg>
<svg class="a" style="left:615.5px;top:432.6px" width="25" height="17" viewBox="0 0 36 26" preserveAspectRatio="none"><use href="#h"/></svg>
<svg class="a" style="left:616.6px;top:490.6px" width="24" height="18" viewBox="0 0 36 26" preserveAspectRatio="none"><use href="#h"/></svg>
<svg class="a" style="left:740px;top:257px" width="24" height="17" viewBox="0 0 36 26" preserveAspectRatio="none"><use href="#h"/></svg>
<svg class="a" style="left:743px;top:321px" width="24" height="19.5" viewBox="0 0 36 26" preserveAspectRatio="none"><use href="#h"/></svg>
<svg class="a" style="left:745.6px;top:360px" width="24" height="18" viewBox="0 0 36 26" preserveAspectRatio="none"><use href="#h"/></svg>
<svg class="a" style="left:742.5px;top:392.4px" width="24" height="15.5" viewBox="0 0 36 26" preserveAspectRatio="none"><use href="#h"/></svg>
<svg class="a" style="left:461px;top:490px" width="25" height="20.4" viewBox="0 0 36 26" preserveAspectRatio="none"><use href="#h"/></svg>
<svg class="a" style="left:499.5px;top:490.7px" width="25" height="19" viewBox="0 0 36 26" preserveAspectRatio="none"><use href="#h"/></svg>
<svg class="a" style="left:499.5px;top:566.7px" width="26.5" height="20.3" viewBox="0 0 36 26" preserveAspectRatio="none"><use href="#h"/></svg>
<svg class="a" style="left:499.5px;top:611.5px" width="26.5" height="20.5" viewBox="0 0 36 26" preserveAspectRatio="none"><use href="#h"/></svg>
<svg class="a" style="left:745px;top:3px" width="26" height="32" viewBox="0 0 26 32">
<ellipse cx="12" cy="12.5" rx="9.6" ry="10.5" fill="#c2ad72"/>
<path d="M12 4.5 L16.2 11 Q17 16 12 20.5 Q7 16 7.8 11 Z" fill="#fff"/>
<circle cx="12" cy="14.8" r="2.6" fill="#c2ad72"/>
<rect x="11.4" y="6" width="1.2" height="6.5" fill="#c2ad72"/>
<rect x="3" y="25.5" width="19" height="1.2" fill="#999"/>
<rect x="5" y="28" width="14" height="1" fill="#aaa"/>
</svg>
<div class="a t" style="left:769px;top:4.5px;font-size:16.5px;font-weight:bold;color:#1a1a1a;transform:scaleX(0.84)">aıunvııooaısı</div>
<div class="a t" style="left:769px;top:22.9px;font-size:8.4px;font-weight:bold;color:#222;transform:scaleX(0.876)">ISRANEWS AGENCY</div>
<svg class="a" style="left:0;top:0" width="857" height="700"><line x1="307" y1="88.8" x2="524" y2="90" stroke="rgba(60,140,200,.6)" stroke-width="6.5"/></svg>
<svg class="a" style="left:0;top:0" width="857" height="700"><line x1="307" y1="96.4" x2="524" y2="116" stroke="rgba(60,140,200,.6)" stroke-width="6.5"/></svg>
<svg class="a" style="left:0;top:0" width="857" height="700"><line x1="296.5" y1="147" x2="268" y2="233" stroke="rgba(238,62,62,.45)" stroke-width="6.8"/></svg>
<svg class="a" style="left:0;top:0" width="857" height="700"><line x1="393" y1="147" x2="420" y2="256" stroke="rgba(238,62,62,.45)" stroke-width="6.8"/></svg>
<svg class="a" style="left:0;top:0" width="857" height="700"><line x1="380" y1="147" x2="421" y2="385" stroke="rgba(238,62,62,.45)" stroke-width="6.8"/></svg>
<svg class="a" style="left:0;top:0" width="857" height="700"><line x1="400" y1="147" x2="656" y2="414" stroke="rgba(238,62,62,.45)" stroke-width="6.8"/></svg>
<svg class="a" style="left:0;top:0" width="857" height="700"><line x1="393.5" y1="147" x2="638" y2="458" stroke="rgba(238,62,62,.45)" stroke-width="6.8"/></svg>
<svg class="a" style="left:0;top:0" width="857" height="700"><line x1="390.7" y1="147" x2="644" y2="501" stroke="rgba(238,62,62,.45)" stroke-width="6.8"/></svg>
<svg class="a" style="left:0;top:0" width="857" height="700"><line x1="381.5" y1="147" x2="640" y2="540" stroke="rgba(238,62,62,.45)" stroke-width="6.8"/></svg>
<svg class="a" style="left:0;top:0" width="857" height="700"><polygon points="91,287 197,278 197,318 91,295" fill="rgba(40,170,95,.55)"/></svg>
<svg class="a" style="left:0;top:0" width="857" height="700"><line x1="372" y1="277" x2="640" y2="273" stroke="rgba(40,170,95,.6)" stroke-width="10"/></svg>
<svg class="a" style="left:0;top:0" width="857" height="700"><line x1="372" y1="292" x2="648" y2="309.5" stroke="rgba(40,170,95,.6)" stroke-width="10"/></svg>
<svg class="a" style="left:0;top:0" width="857" height="700"><line x1="372" y1="303" x2="768" y2="394.5" stroke="rgba(40,170,95,.6)" stroke-width="10"/></svg>
<svg class="a" style="left:329px;top:308px" width="34.5" height="25" viewBox="0 0 36 26" preserveAspectRatio="none"><use href="#h"/></svg>
<div class="a " style="left:287.4px;top:107.4px;width:117.6px;height:41.6px;background:#d51d1d;border:1.6px solid #111;border-radius:2px;box-shadow:2px 2px 3px rgba(0,0,0,.45)"></div>
<div class="a " style="left:197.5px;top:274px;width:175.5px;height:45px;background:#23ad5e;border:1.8px solid #111;border-radius:3px;box-shadow:2px 2px 3px rgba(0,0,0,.45)"></div>
<div class="a t" id="t352" style="left:290.0px;top:113.3px;font-size:8.4px;font-weight:bold;color:#1a0000;transform:scaleX(1.005);">uıemnua v. (voıou) ansnw v.</div>
<div class="a t" id="t353" style="left:290.0px;top:125.3px;font-size:8.4px;font-weight:bold;color:#1a0000;transform:scaleX(0.994);">nssunısınsovıenau</div>
<div class="a t" id="t354" style="left:290.0px;top:136.3px;font-size:8.4px;font-weight:bold;color:#1a0000;transform:scaleX(1.007);">uıegınuwJa a. (nau 39 usun)</div>
<div class="a t" id="t355" style="left:203.0px;top:279.8px;font-size:10px;font-weight:bold;color:#06180a;transform:scaleX(0.811);">uıeanus n. ıUunssunıs u.lonnsUıUawaa an.</div>
<div class="a t" id="t356" style="left:203.0px;top:291.8px;font-size:10px;font-weight:bold;color:#06180a;transform:scaleX(0.813);">wnonu u.nsuıUoıouvwwaıe an.</div>
<div class="a t" id="t357" style="left:203.0px;top:303.3px;font-size:10px;font-weight:bold;color:#06180a;transform:scaleX(0.820);">ııa: u.nu ouıoosınso an. (nau 39 usun)</div>
<div class="a" style="left:0;top:0;width:857px;height:700px;overflow:hidden;clip-path:polygon(0 0,857px 0,857px 400px,560px 400px,560px 700px,0 700px)"><div class="a wm" style="left:-248px;top:643px">www.isranews.org</div><div class="a wm" style="left:-158px;top:556px">www.isranews.org</div><div class="a wm" style="left:-10px;top:610px">www.isranews.org</div><div class="a wm" style="left:138px;top:666px">www.isranews.org</div><div class="a wm" style="left:-215px;top:413px">www.isranews.org</div><div class="a wm" style="left:-67px;top:468px">www.isranews.org</div><div class="a wm" style="left:81px;top:523px">www.isranews.org</div><div class="a wm" style="left:229px;top:578px">www.isranews.org</div><div class="a wm" style="left:377px;top:633px">www.isranews.org</div><div class="a wm" style="left:525px;top:688px">www.isranews.org</div><div class="a wm" style="left:-124px;top:326px">www.isranews.org</div><div class="a wm" style="left:24px;top:380px">www.isranews.org</div><div class="a wm" style="left:172px;top:436px">www.isranews.org</div><div class="a wm" style="left:320px;top:490px">www.isranews.org</div><div class="a wm" style="left:468px;top:546px">www.isranews.org</div><div class="a wm" style="left:616px;top:600px">www.isranews.org</div><div class="a wm" style="left:764px;top:656px">www.isranews.org</div><div class="a wm" style="left:-181px;top:183px">www.isranews.org</div><div class="a wm" style="left:-33px;top:238px">www.isranews.org</div><div class="a wm" style="left:115px;top:293px">www.isranews.org</div><div class="a wm" style="left:263px;top:348px">www.isranews.org</div><div class="a wm" style="left:411px;top:403px">www.isranews.org</div><div class="a wm" style="left:559px;top:458px">www.isranews.org</div><div class="a wm" style="left:707px;top:513px">www.isranews.org</div><div class="a wm" style="left:855px;top:568px">www.isranews.org</div><div class="a wm" style="left:-238px;top:40px">www.isranews.org</div><div class="a wm" style="left:-90px;top:96px">www.isranews.org</div><div class="a wm" style="left:58px;top:150px">www.isranews.org</div><div class="a wm" style="left:206px;top:206px">www.isranews.org</div><div class="a wm" style="left:354px;top:260px">www.isranews.org</div><div class="a wm" style="left:502px;top:316px">www.isranews.org</div><div class="a wm" style="left:650px;top:370px">www.isranews.org</div><div class="a wm" style="left:798px;top:426px">www.isranews.org</div><div class="a wm" style="left:-148px;top:-47px">www.isranews.org</div><div class="a wm" style="left:0px;top:8px">www.isranews.org</div><div class="a wm" style="left:148px;top:63px">www.isranews.org</div><div class="a wm" style="left:296px;top:118px">www.isranews.org</div><div class="a wm" style="left:444px;top:173px">www.isranews.org</div><div class="a wm" style="left:592px;top:228px">www.isranews.org</div><div class="a wm" style="left:740px;top:283px">www.isranews.org</div><div class="a wm" style="left:-205px;top:-190px">www.isranews.org</div><div class="a wm" style="left:-57px;top:-134px">www.isranews.org</div><div class="a wm" style="left:91px;top:-80px">www.isranews.org</div><div class="a wm" style="left:239px;top:-24px">www.isranews.org</div><div class="a wm" style="left:387px;top:30px">www.isranews.org</div><div class="a wm" style="left:535px;top:86px">www.isranews.org</div><div class="a wm" style="left:683px;top:140px">www.isranews.org</div><div class="a wm" style="left:831px;top:196px">www.isranews.org</div><div class="a wm" style="left:-114px;top:-277px">www.isranews.org</div><div class="a wm" style="left:34px;top:-222px">www.isranews.org</div><div class="a wm" style="left:182px;top:-167px">www.isranews.org</div><div class="a wm" style="left:330px;top:-112px">www.isranews.org</div><div class="a wm" style="left:478px;top:-57px">www.isranews.org</div><div class="a wm" style="left:626px;top:-2px">www.isranews.org</div><div class="a wm" style="left:774px;top:53px">www.isranews.org</div><div class="a wm" style="left:273px;top:-254px">www.isranews.org</div><div class="a wm" style="left:421px;top:-200px">www.isranews.org</div><div class="a wm" style="left:569px;top:-144px">www.isranews.org</div><div class="a wm" style="left:717px;top:-90px">www.isranews.org</div><div class="a wm" style="left:865px;top:-34px">www.isranews.org</div><div class="a wm" style="left:660px;top:-232px">www.isranews.org</div><div class="a wm" style="left:808px;top:-177px">www.isranews.org</div></div>
<div class="a" style="left:0;top:0;width:857px;height:700px;overflow:hidden;clip-path:polygon(560px 400px,857px 400px,857px 700px,560px 700px)"><div class="a wm" style="left:-209px;top:691px">www.isranews.org</div><div class="a wm" style="left:-118px;top:604px">www.isranews.org</div><div class="a wm" style="left:30px;top:658px">www.isranews.org</div><div class="a wm" style="left:-176px;top:461px">www.isranews.org</div><div class="a wm" style="left:-28px;top:516px">www.isranews.org</div><div class="a wm" style="left:120px;top:571px">www.isranews.org</div><div class="a wm" style="left:268px;top:626px">www.isranews.org</div><div class="a wm" style="left:416px;top:681px">www.isranews.org</div><div class="a wm" style="left:-233px;top:318px">www.isranews.org</div><div class="a wm" style="left:-85px;top:374px">www.isranews.org</div><div class="a wm" style="left:63px;top:428px">www.isranews.org</div><div class="a wm" style="left:211px;top:484px">www.isranews.org</div><div class="a wm" style="left:359px;top:538px">www.isranews.org</div><div class="a wm" style="left:507px;top:594px">www.isranews.org</div><div class="a wm" style="left:655px;top:648px">www.isranews.org</div><div class="a wm" style="left:-142px;top:231px">www.isranews.org</div><div class="a wm" style="left:6px;top:286px">www.isranews.org</div><div class="a wm" style="left:154px;top:341px">www.isranews.org</div><div class="a wm" style="left:302px;top:396px">www.isranews.org</div><div class="a wm" style="left:450px;top:451px">www.isranews.org</div><div class="a wm" style="left:598px;top:506px">www.isranews.org</div><div class="a wm" style="left:746px;top:561px">www.isranews.org</div><div class="a wm" style="left:-199px;top:88px">www.isranews.org</div><div class="a wm" style="left:-51px;top:144px">www.isranews.org</div><div class="a wm" style="left:97px;top:198px">www.isranews.org</div><div class="a wm" style="left:245px;top:254px">www.isranews.org</div><div class="a wm" style="left:393px;top:308px">www.isranews.org</div><div class="a wm" style="left:541px;top:364px">www.isranews.org</div><div class="a wm" style="left:689px;top:418px">www.isranews.org</div><div class="a wm" style="left:837px;top:474px">www.isranews.org</div><div class="a wm" style="left:-256px;top:-54px">www.isranews.org</div><div class="a wm" style="left:-108px;top:1px">www.isranews.org</div><div class="a wm" style="left:40px;top:56px">www.isranews.org</div><div class="a wm" style="left:188px;top:111px">www.isranews.org</div><div class="a wm" style="left:336px;top:166px">www.isranews.org</div><div class="a wm" style="left:484px;top:221px">www.isranews.org</div><div class="a wm" style="left:632px;top:276px">www.isranews.org</div><div class="a wm" style="left:780px;top:331px">www.isranews.org</div><div class="a wm" style="left:-166px;top:-142px">www.isranews.org</div><div class="a wm" style="left:-18px;top:-86px">www.isranews.org</div><div class="a wm" style="left:130px;top:-32px">www.isranews.org</div><div class="a wm" style="left:278px;top:24px">www.isranews.org</div><div class="a wm" style="left:426px;top:78px">www.isranews.org</div><div class="a wm" style="left:574px;top:134px">www.isranews.org</div><div class="a wm" style="left:722px;top:188px">www.isranews.org</div><div class="a wm" style="left:870px;top:244px">www.isranews.org</div><div class="a wm" style="left:-75px;top:-229px">www.isranews.org</div><div class="a wm" style="left:73px;top:-174px">www.isranews.org</div><div class="a wm" style="left:221px;top:-119px">www.isranews.org</div><div class="a wm" style="left:369px;top:-64px">www.isranews.org</div><div class="a wm" style="left:517px;top:-9px">www.isranews.org</div><div class="a wm" style="left:665px;top:46px">www.isranews.org</div><div class="a wm" style="left:813px;top:101px">www.isranews.org</div><div class="a wm" style="left:164px;top:-262px">www.isranews.org</div><div class="a wm" style="left:312px;top:-206px">www.isranews.org</div><div class="a wm" style="left:460px;top:-152px">www.isranews.org</div><div class="a wm" style="left:608px;top:-96px">www.isranews.org</div><div class="a wm" style="left:756px;top:-42px">www.isranews.org</div><div class="a wm" style="left:551px;top:-239px">www.isranews.org</div><div class="a wm" style="left:699px;top:-184px">www.isranews.org</div><div class="a wm" style="left:847px;top:-129px">www.isranews.org</div><div class="a wm" style="left:790px;top:-272px">www.isranews.org</div></div>
</body></html>
